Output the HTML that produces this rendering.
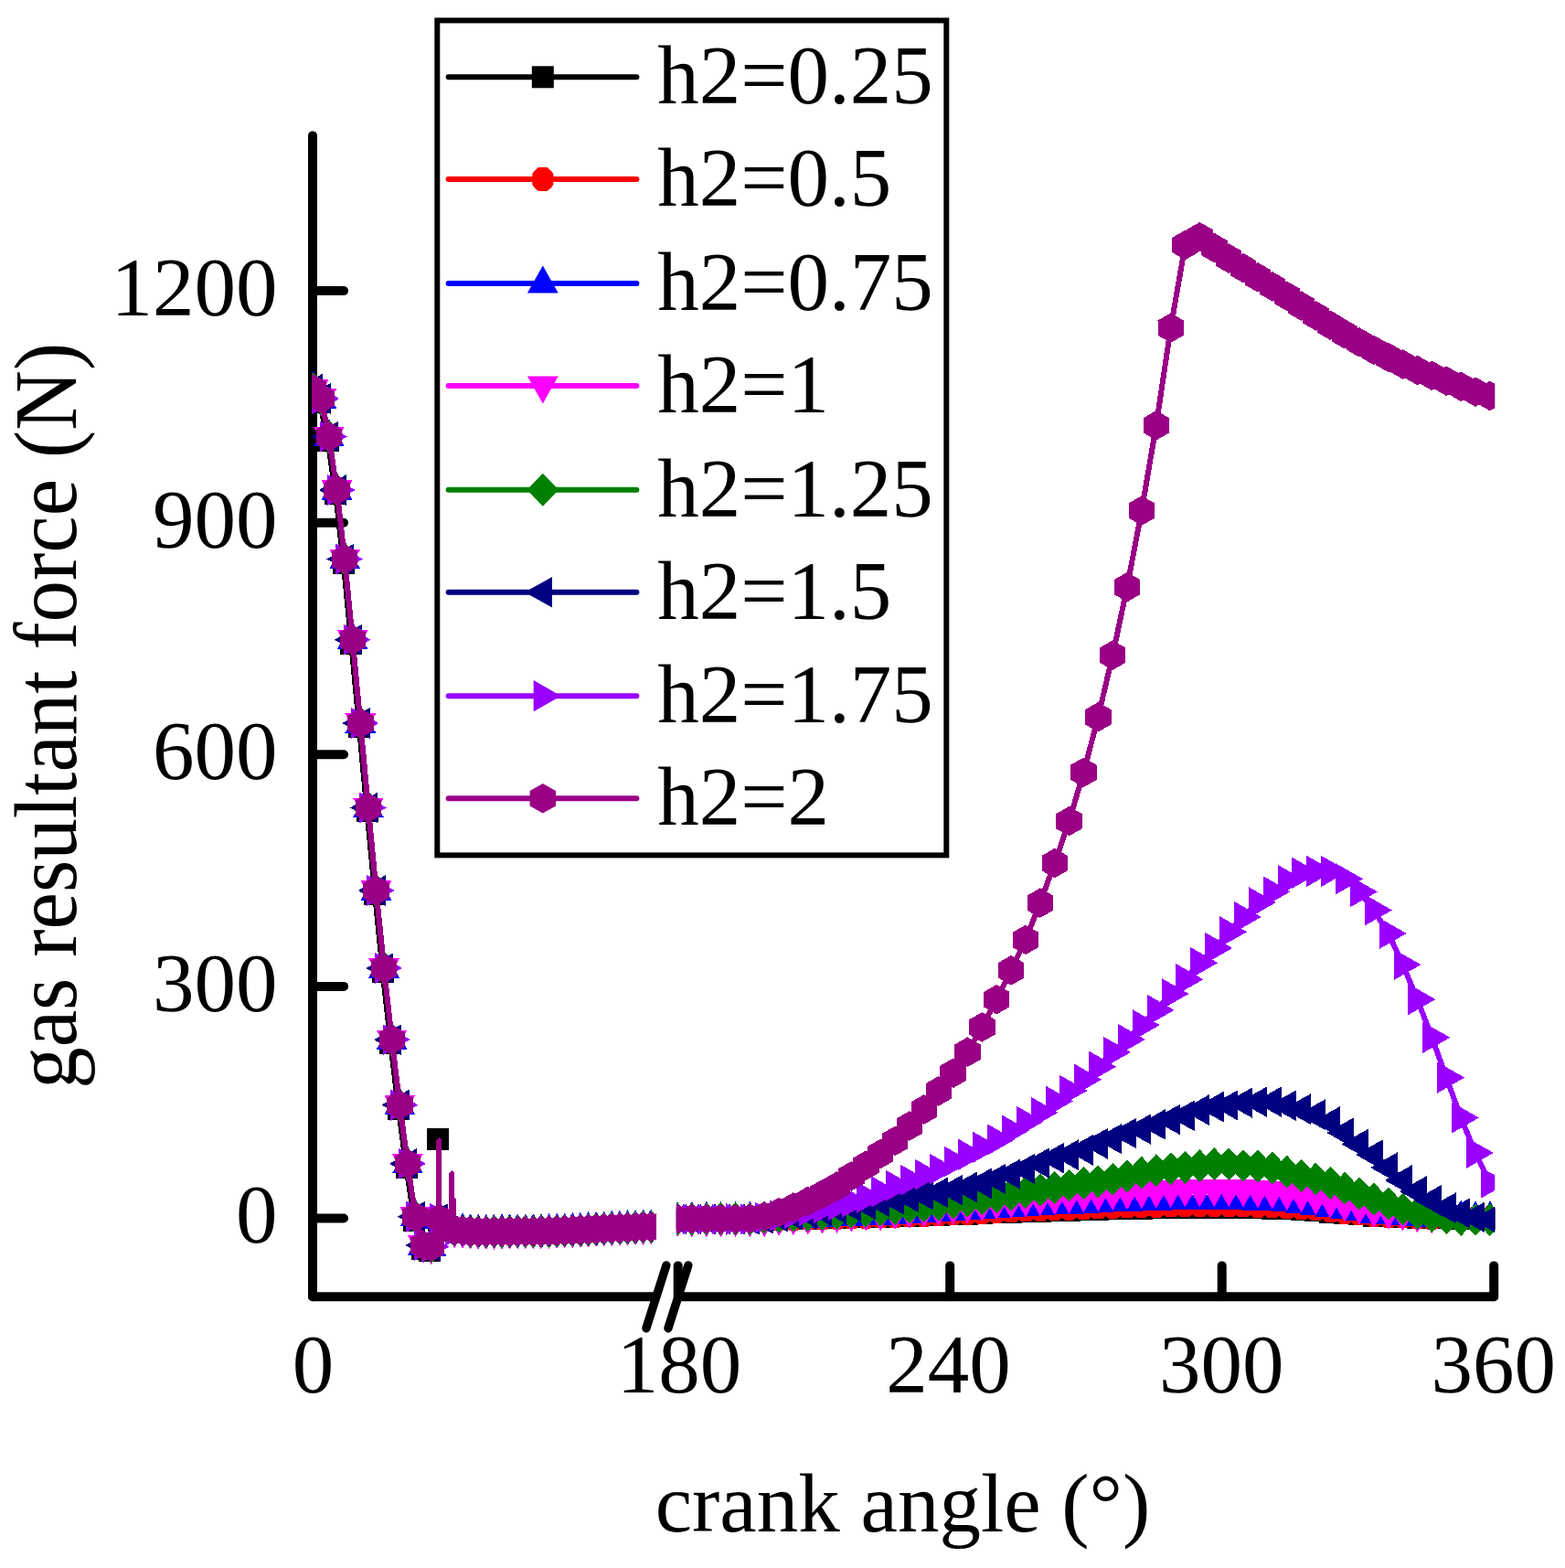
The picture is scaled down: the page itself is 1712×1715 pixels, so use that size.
<!DOCTYPE html>
<html lang="en">
<head>
<meta charset="utf-8">
<title>gas resultant force vs crank angle</title>
<style>html,body{margin:0;padding:0;background:#fff}body{width:1712px;height:1715px;overflow:hidden}svg{display:block}</style>
</head>
<body>
<svg width="1712" height="1715" viewBox="0 0 1712 1715" role="img" aria-label="gas resultant force versus crank angle">
<rect width="1712" height="1715" fill="#fff"/>
<defs><clipPath id="cl"><rect x="341" y="140" width="376.9" height="1275"/></clipPath><clipPath id="cr"><rect x="739.9" y="140" width="895.4" height="1275"/></clipPath></defs>
<g stroke="#000" stroke-width="10" stroke-linecap="round" fill="none">
<path d="M342 148.4V1418.3"/>
<path stroke-linecap="butt" d="M342 1418.3H718"/>
<path stroke-linecap="butt" d="M741.5 1418.3H1634.2"/>
<path d="M342 1418.3h0.01M1634.2 1418.3h0.01"/>
<path d="M342 1332.5H376"/>
<path d="M342 1078.9H376"/>
<path d="M342 825.3H376"/>
<path d="M342 571.7H376"/>
<path d="M342 318.1H376"/>
<path d="M741.7 1418.3V1384.4"/>
<path d="M1039.2 1418.3V1384.4"/>
<path d="M1336.7 1418.3V1384.4"/>
<path d="M1634.2 1418.3V1384.4"/>
</g>
<g stroke="#000" stroke-width="9.4" stroke-linecap="round"><path d="M706.9 1452.7L728.9 1383.9"/><path d="M730.9 1452.7L752.9 1383.9"/></g>
<g font-family='"Liberation Serif", "DejaVu Serif", serif' font-size="91" fill="#000">
<text x="303.5" y="1359.3" text-anchor="end">0</text>
<text x="303.5" y="1105.7" text-anchor="end">300</text>
<text x="303.5" y="852.1" text-anchor="end">600</text>
<text x="303.5" y="598.5" text-anchor="end">900</text>
<text x="303.5" y="344.9" text-anchor="end">1200</text>
<text x="342.4" y="1523" text-anchor="middle">0</text>
<text x="742.9" y="1523" text-anchor="middle">180</text>
<text x="1037.6" y="1523" text-anchor="middle">240</text>
<text x="1336.2" y="1523" text-anchor="middle">300</text>
<text x="1633.8" y="1523" text-anchor="middle">360</text>
<text x="987.5" y="1675" text-anchor="middle">crank angle (°)</text>
<text transform="translate(83 782.8) rotate(-90) scale(1 1.07)" text-anchor="middle">gas resultant force (N)</text>
</g>
<g clip-path="url(#cl)" shape-rendering="crispEdges">
<polyline fill="none" stroke="#000000" stroke-width="6" stroke-linejoin="round" points="341.4,429.5 349.9,440 358.5,481.5 367.1,540 375.7,615.5 384.3,703.7 392.9,795 401.5,887.4 410.1,978 418.7,1062.9 427.3,1141.1 435.9,1212.6 444.5,1276.8 453.1,1334.7 461.6,1366 470.2,1367.6 479.5,1335 488.8,1342 497.4,1345.5 506,1346 514.6,1347 523.2,1347.2 531.8,1347.3 540.4,1347.2 549,1347.1 557.6,1347 566.2,1346.9 574.8,1346.9 583.3,1346.8 591.9,1346.7 600.5,1346.6 609.1,1346.3 617.7,1346 626.3,1345.7 634.9,1345.3 643.5,1344.9 652.1,1344.4 660.7,1344 669.3,1343.6 677.9,1343.3 686.5,1342.9 695,1342.6 703.6,1342.2 712.2,1341.9 720.8,1341.8"/>
<path fill="#000000" d="M329.4 417.5L353.4 417.5L353.4 441.5L329.4 441.5ZM337.9 428L361.9 428L361.9 452L337.9 452ZM346.5 469.5L370.5 469.5L370.5 493.5L346.5 493.5ZM355.1 528L379.1 528L379.1 552L355.1 552ZM363.7 603.5L387.7 603.5L387.7 627.5L363.7 627.5ZM372.3 691.7L396.3 691.7L396.3 715.7L372.3 715.7ZM380.9 783L404.9 783L404.9 807L380.9 807ZM389.5 875.4L413.5 875.4L413.5 899.4L389.5 899.4ZM398.1 966L422.1 966L422.1 990L398.1 990ZM406.7 1050.9L430.7 1050.9L430.7 1074.9L406.7 1074.9ZM415.3 1129.1L439.3 1129.1L439.3 1153.1L415.3 1153.1ZM423.9 1200.6L447.9 1200.6L447.9 1224.6L423.9 1224.6ZM432.5 1264.8L456.5 1264.8L456.5 1288.8L432.5 1288.8ZM441.1 1322.7L465.1 1322.7L465.1 1346.7L441.1 1346.7ZM449.6 1354L473.6 1354L473.6 1378L449.6 1378ZM458.2 1355.6L482.2 1355.6L482.2 1379.6L458.2 1379.6ZM467.5 1323L491.5 1323L491.5 1347L467.5 1347ZM476.8 1330L500.8 1330L500.8 1354L476.8 1354ZM485.4 1333.5L509.4 1333.5L509.4 1357.5L485.4 1357.5ZM494 1334L518 1334L518 1358L494 1358ZM502.6 1335L526.6 1335L526.6 1359L502.6 1359ZM511.2 1335.2L535.2 1335.2L535.2 1359.2L511.2 1359.2ZM519.8 1335.3L543.8 1335.3L543.8 1359.3L519.8 1359.3ZM528.4 1335.2L552.4 1335.2L552.4 1359.2L528.4 1359.2ZM537 1335.1L561 1335.1L561 1359.1L537 1359.1ZM545.6 1335L569.6 1335L569.6 1359L545.6 1359ZM554.2 1334.9L578.2 1334.9L578.2 1358.9L554.2 1358.9ZM562.8 1334.9L586.8 1334.9L586.8 1358.9L562.8 1358.9ZM571.3 1334.8L595.3 1334.8L595.3 1358.8L571.3 1358.8ZM579.9 1334.7L603.9 1334.7L603.9 1358.7L579.9 1358.7ZM588.5 1334.6L612.5 1334.6L612.5 1358.6L588.5 1358.6ZM597.1 1334.3L621.1 1334.3L621.1 1358.3L597.1 1358.3ZM605.7 1334L629.7 1334L629.7 1358L605.7 1358ZM614.3 1333.7L638.3 1333.7L638.3 1357.7L614.3 1357.7ZM622.9 1333.3L646.9 1333.3L646.9 1357.3L622.9 1357.3ZM631.5 1332.9L655.5 1332.9L655.5 1356.9L631.5 1356.9ZM640.1 1332.4L664.1 1332.4L664.1 1356.4L640.1 1356.4ZM648.7 1332L672.7 1332L672.7 1356L648.7 1356ZM657.3 1331.6L681.3 1331.6L681.3 1355.6L657.3 1355.6ZM665.9 1331.3L689.9 1331.3L689.9 1355.3L665.9 1355.3ZM674.5 1330.9L698.5 1330.9L698.5 1354.9L674.5 1354.9ZM683 1330.6L707 1330.6L707 1354.6L683 1354.6ZM691.6 1330.2L715.6 1330.2L715.6 1354.2L691.6 1354.2ZM700.2 1329.9L724.2 1329.9L724.2 1353.9L700.2 1353.9ZM708.8 1329.8L732.8 1329.8L732.8 1353.8L708.8 1353.8Z"/>
<path fill="#000000" d="M477.3 1335V1247h6V1335Z"/>
<path fill="#000000" d="M467.1 1233.9L491.1 1233.9L491.1 1257.9L467.1 1257.9Z"/>
<polyline fill="none" stroke="#ff0000" stroke-width="6" stroke-linejoin="round" points="342.8,425.5 351.3,436 359.9,477.5 368.5,536 377.1,611.5 385.7,699.7 394.3,791 402.9,883.4 411.5,974 420.1,1058.9 428.7,1137.1 437.3,1208.6 445.9,1272.8 454.5,1330.7 463,1362 471.6,1363.6 480.2,1333 488.8,1342 497.4,1345.5 506,1346 514.6,1347 523.2,1347.2 531.8,1347.3 540.4,1347.2 549,1347.1 557.6,1347 566.2,1346.9 574.8,1346.9 583.3,1346.8 591.9,1346.7 600.5,1346.6 609.1,1346.3 617.7,1346 626.3,1345.7 634.9,1345.3 643.5,1344.9 652.1,1344.4 660.7,1344 669.3,1343.6 677.9,1343.3 686.5,1342.9 695,1342.6 703.6,1342.2 712.2,1341.9 720.8,1341.8"/>
<path fill="#ff0000" d="M337.9 412.5L347.6 412.5L351.9 416.3L354.2 419.5L354.2 431.5L351.9 434.7L347.6 438.5L337.9 438.5L333.6 434.7L331.2 431.5L331.2 419.5L333.6 416.3ZM346.5 423L356.1 423L360.5 426.8L362.8 430L362.8 442L360.5 445.2L356.1 449L346.5 449L342.1 445.2L339.8 442L339.8 430L342.1 426.8ZM355.1 464.5L364.7 464.5L369.1 468.3L371.4 471.5L371.4 483.5L369.1 486.7L364.7 490.5L355.1 490.5L350.7 486.7L348.4 483.5L348.4 471.5L350.7 468.3ZM363.7 523L373.3 523L377.7 526.8L380 530L380 542L377.7 545.2L373.3 549L363.7 549L359.3 545.2L357 542L357 530L359.3 526.8ZM372.3 598.5L381.9 598.5L386.3 602.3L388.6 605.5L388.6 617.5L386.3 620.7L381.9 624.5L372.3 624.5L367.9 620.7L365.6 617.5L365.6 605.5L367.9 602.3ZM380.9 686.7L390.5 686.7L394.9 690.5L397.2 693.7L397.2 705.7L394.9 708.9L390.5 712.7L380.9 712.7L376.5 708.9L374.2 705.7L374.2 693.7L376.5 690.5ZM389.5 778L399.1 778L403.5 781.8L405.8 785L405.8 797L403.5 800.2L399.1 804L389.5 804L385.1 800.2L382.8 797L382.8 785L385.1 781.8ZM398.1 870.4L407.7 870.4L412.1 874.2L414.4 877.4L414.4 889.4L412.1 892.6L407.7 896.4L398.1 896.4L393.7 892.6L391.4 889.4L391.4 877.4L393.7 874.2ZM406.7 961L416.3 961L420.7 964.8L423 968L423 980L420.7 983.2L416.3 987L406.7 987L402.3 983.2L400 980L400 968L402.3 964.8ZM415.3 1045.9L424.9 1045.9L429.3 1049.7L431.6 1052.9L431.6 1064.9L429.3 1068.1L424.9 1071.9L415.3 1071.9L410.9 1068.1L408.6 1064.9L408.6 1052.9L410.9 1049.7ZM423.9 1124.1L433.5 1124.1L437.9 1127.9L440.2 1131.1L440.2 1143.1L437.9 1146.3L433.5 1150.1L423.9 1150.1L419.5 1146.3L417.2 1143.1L417.2 1131.1L419.5 1127.9ZM432.5 1195.6L442.1 1195.6L446.5 1199.4L448.8 1202.6L448.8 1214.6L446.5 1217.8L442.1 1221.6L432.5 1221.6L428.1 1217.8L425.8 1214.6L425.8 1202.6L428.1 1199.4ZM441.1 1259.8L450.7 1259.8L455.1 1263.6L457.4 1266.8L457.4 1278.8L455.1 1282L450.7 1285.8L441.1 1285.8L436.7 1282L434.4 1278.8L434.4 1266.8L436.7 1263.6ZM449.7 1317.7L459.3 1317.7L463.7 1321.5L466 1324.7L466 1336.7L463.7 1339.9L459.3 1343.7L449.7 1343.7L445.3 1339.9L443 1336.7L443 1324.7L445.3 1321.5ZM458.2 1349L467.8 1349L472.2 1352.8L474.5 1356L474.5 1368L472.2 1371.2L467.8 1375L458.2 1375L453.8 1371.2L451.5 1368L451.5 1356L453.8 1352.8ZM466.8 1350.6L476.4 1350.6L480.8 1354.4L483.1 1357.6L483.1 1369.6L480.8 1372.8L476.4 1376.6L466.8 1376.6L462.4 1372.8L460.1 1369.6L460.1 1357.6L462.4 1354.4ZM475.4 1320L485 1320L489.4 1323.8L491.7 1327L491.7 1339L489.4 1342.2L485 1346L475.4 1346L471 1342.2L468.7 1339L468.7 1327L471 1323.8ZM484 1329L493.6 1329L498 1332.8L500.3 1336L500.3 1348L498 1351.2L493.6 1355L484 1355L479.6 1351.2L477.3 1348L477.3 1336L479.6 1332.8ZM492.6 1332.5L502.2 1332.5L506.6 1336.3L508.9 1339.5L508.9 1351.5L506.6 1354.7L502.2 1358.5L492.6 1358.5L488.2 1354.7L485.9 1351.5L485.9 1339.5L488.2 1336.3ZM501.2 1333L510.8 1333L515.2 1336.8L517.5 1340L517.5 1352L515.2 1355.2L510.8 1359L501.2 1359L496.8 1355.2L494.5 1352L494.5 1340L496.8 1336.8ZM509.8 1334L519.4 1334L523.8 1337.8L526.1 1341L526.1 1353L523.8 1356.2L519.4 1360L509.8 1360L505.4 1356.2L503.1 1353L503.1 1341L505.4 1337.8ZM518.4 1334.2L528 1334.2L532.4 1338L534.7 1341.2L534.7 1353.2L532.4 1356.4L528 1360.2L518.4 1360.2L514 1356.4L511.7 1353.2L511.7 1341.2L514 1338ZM527 1334.3L536.6 1334.3L541 1338.1L543.3 1341.3L543.3 1353.3L541 1356.5L536.6 1360.3L527 1360.3L522.6 1356.5L520.3 1353.3L520.3 1341.3L522.6 1338.1ZM535.6 1334.2L545.2 1334.2L549.6 1338L551.9 1341.2L551.9 1353.2L549.6 1356.4L545.2 1360.2L535.6 1360.2L531.2 1356.4L528.9 1353.2L528.9 1341.2L531.2 1338ZM544.2 1334.1L553.8 1334.1L558.2 1337.9L560.5 1341.1L560.5 1353.1L558.2 1356.3L553.8 1360.1L544.2 1360.1L539.8 1356.3L537.5 1353.1L537.5 1341.1L539.8 1337.9ZM552.8 1334L562.4 1334L566.8 1337.8L569.1 1341L569.1 1353L566.8 1356.2L562.4 1360L552.8 1360L548.4 1356.2L546.1 1353L546.1 1341L548.4 1337.8ZM561.4 1333.9L571 1333.9L575.4 1337.7L577.7 1340.9L577.7 1352.9L575.4 1356.1L571 1359.9L561.4 1359.9L557 1356.1L554.7 1352.9L554.7 1340.9L557 1337.7ZM570 1333.9L579.6 1333.9L584 1337.7L586.3 1340.9L586.3 1352.9L584 1356.1L579.6 1359.9L570 1359.9L565.6 1356.1L563.3 1352.9L563.3 1340.9L565.6 1337.7ZM578.5 1333.8L588.1 1333.8L592.5 1337.6L594.8 1340.8L594.8 1352.8L592.5 1356L588.1 1359.8L578.5 1359.8L574.1 1356L571.8 1352.8L571.8 1340.8L574.1 1337.6ZM587.1 1333.7L596.7 1333.7L601.1 1337.5L603.4 1340.7L603.4 1352.7L601.1 1355.9L596.7 1359.7L587.1 1359.7L582.7 1355.9L580.4 1352.7L580.4 1340.7L582.7 1337.5ZM595.7 1333.6L605.3 1333.6L609.7 1337.4L612 1340.6L612 1352.6L609.7 1355.8L605.3 1359.6L595.7 1359.6L591.3 1355.8L589 1352.6L589 1340.6L591.3 1337.4ZM604.3 1333.3L613.9 1333.3L618.3 1337.1L620.6 1340.3L620.6 1352.3L618.3 1355.5L613.9 1359.3L604.3 1359.3L599.9 1355.5L597.6 1352.3L597.6 1340.3L599.9 1337.1ZM612.9 1333L622.5 1333L626.9 1336.8L629.2 1340L629.2 1352L626.9 1355.2L622.5 1359L612.9 1359L608.5 1355.2L606.2 1352L606.2 1340L608.5 1336.8ZM621.5 1332.7L631.1 1332.7L635.5 1336.5L637.8 1339.7L637.8 1351.7L635.5 1354.9L631.1 1358.7L621.5 1358.7L617.1 1354.9L614.8 1351.7L614.8 1339.7L617.1 1336.5ZM630.1 1332.3L639.7 1332.3L644.1 1336.1L646.4 1339.3L646.4 1351.3L644.1 1354.5L639.7 1358.3L630.1 1358.3L625.7 1354.5L623.4 1351.3L623.4 1339.3L625.7 1336.1ZM638.7 1331.9L648.3 1331.9L652.7 1335.7L655 1338.9L655 1350.9L652.7 1354.1L648.3 1357.9L638.7 1357.9L634.3 1354.1L632 1350.9L632 1338.9L634.3 1335.7ZM647.3 1331.4L656.9 1331.4L661.3 1335.2L663.6 1338.4L663.6 1350.4L661.3 1353.6L656.9 1357.4L647.3 1357.4L642.9 1353.6L640.6 1350.4L640.6 1338.4L642.9 1335.2ZM655.9 1331L665.5 1331L669.9 1334.8L672.2 1338L672.2 1350L669.9 1353.2L665.5 1357L655.9 1357L651.5 1353.2L649.2 1350L649.2 1338L651.5 1334.8ZM664.5 1330.6L674.1 1330.6L678.5 1334.4L680.8 1337.6L680.8 1349.6L678.5 1352.8L674.1 1356.6L664.5 1356.6L660.1 1352.8L657.8 1349.6L657.8 1337.6L660.1 1334.4ZM673.1 1330.3L682.7 1330.3L687.1 1334.1L689.4 1337.3L689.4 1349.3L687.1 1352.5L682.7 1356.3L673.1 1356.3L668.7 1352.5L666.4 1349.3L666.4 1337.3L668.7 1334.1ZM681.7 1329.9L691.3 1329.9L695.7 1333.7L698 1336.9L698 1348.9L695.7 1352.1L691.3 1355.9L681.7 1355.9L677.3 1352.1L675 1348.9L675 1336.9L677.3 1333.7ZM690.2 1329.6L699.8 1329.6L704.2 1333.4L706.5 1336.6L706.5 1348.6L704.2 1351.8L699.8 1355.6L690.2 1355.6L685.8 1351.8L683.5 1348.6L683.5 1336.6L685.8 1333.4ZM698.8 1329.2L708.4 1329.2L712.8 1333L715.1 1336.2L715.1 1348.2L712.8 1351.4L708.4 1355.2L698.8 1355.2L694.4 1351.4L692.1 1348.2L692.1 1336.2L694.4 1333ZM707.4 1328.9L717 1328.9L721.4 1332.7L723.7 1335.9L723.7 1347.9L721.4 1351.1L717 1354.9L707.4 1354.9L703 1351.1L700.7 1347.9L700.7 1335.9L703 1332.7ZM716 1328.8L725.6 1328.8L730 1332.6L732.3 1335.8L732.3 1347.8L730 1351L725.6 1354.8L716 1354.8L711.6 1351L709.3 1347.8L709.3 1335.8L711.6 1332.6Z"/>
<polyline fill="none" stroke="#0000ff" stroke-width="6" stroke-linejoin="round" points="342.8,425.5 351.3,436 359.9,477.5 368.5,536 377.1,611.5 385.7,699.7 394.3,791 402.9,883.4 411.5,974 420.1,1058.9 428.7,1137.1 437.3,1208.6 445.9,1272.8 454.5,1330.7 463,1362 471.6,1363.6 480.2,1333 488.8,1342 497.4,1345.5 506,1346 514.6,1347 523.2,1347.2 531.8,1347.3 540.4,1347.2 549,1347.1 557.6,1347 566.2,1346.9 574.8,1346.9 583.3,1346.8 591.9,1346.7 600.5,1346.6 609.1,1346.3 617.7,1346 626.3,1345.7 634.9,1345.3 643.5,1344.9 652.1,1344.4 660.7,1344 669.3,1343.6 677.9,1343.3 686.5,1342.9 695,1342.6 703.6,1342.2 712.2,1341.9 720.8,1341.8"/>
<path fill="#0000ff" d="M342.8 405.9L359.6 436.1L325.9 436.1ZM351.3 416.4L368.2 446.6L334.4 446.6ZM359.9 457.9L376.8 488.1L343 488.1ZM368.5 516.4L385.4 546.6L351.6 546.6ZM377.1 591.9L394 622.1L360.2 622.1ZM385.7 680.1L402.6 710.3L368.8 710.3ZM394.3 771.4L411.2 801.6L377.4 801.6ZM402.9 863.8L419.8 894L386 894ZM411.5 954.4L428.4 984.6L394.6 984.6ZM420.1 1039.3L437 1069.5L403.2 1069.5ZM428.7 1117.5L445.6 1147.7L411.8 1147.7ZM437.3 1189L454.2 1219.2L420.4 1219.2ZM445.9 1253.2L462.8 1283.4L429 1283.4ZM454.5 1311.1L471.4 1341.3L437.6 1341.3ZM463 1342.4L479.9 1372.6L446.1 1372.6ZM471.6 1344L488.5 1374.2L454.7 1374.2ZM480.2 1313.4L497.1 1343.6L463.3 1343.6ZM488.8 1322.4L505.7 1352.6L471.9 1352.6ZM497.4 1325.9L514.3 1356.1L480.5 1356.1ZM506 1326.4L522.9 1356.6L489.1 1356.6ZM514.6 1327.4L531.5 1357.6L497.7 1357.6ZM523.2 1327.6L540.1 1357.8L506.3 1357.8ZM531.8 1327.7L548.7 1357.9L514.9 1357.9ZM540.4 1327.6L557.3 1357.8L523.5 1357.8ZM549 1327.5L565.9 1357.7L532.1 1357.7ZM557.6 1327.4L574.5 1357.6L540.7 1357.6ZM566.2 1327.3L583.1 1357.5L549.3 1357.5ZM574.8 1327.3L591.7 1357.5L557.9 1357.5ZM583.3 1327.2L600.2 1357.4L566.4 1357.4ZM591.9 1327.1L608.8 1357.3L575 1357.3ZM600.5 1327L617.4 1357.2L583.6 1357.2ZM609.1 1326.7L626 1356.9L592.2 1356.9ZM617.7 1326.4L634.6 1356.6L600.8 1356.6ZM626.3 1326.1L643.2 1356.3L609.4 1356.3ZM634.9 1325.7L651.8 1355.9L618 1355.9ZM643.5 1325.3L660.4 1355.5L626.6 1355.5ZM652.1 1324.8L669 1355L635.2 1355ZM660.7 1324.4L677.6 1354.6L643.8 1354.6ZM669.3 1324L686.2 1354.2L652.4 1354.2ZM677.9 1323.7L694.8 1353.9L661 1353.9ZM686.5 1323.3L703.4 1353.5L669.6 1353.5ZM695 1323L711.9 1353.2L678.1 1353.2ZM703.6 1322.6L720.5 1352.8L686.7 1352.8ZM712.2 1322.3L729.1 1352.5L695.3 1352.5ZM720.8 1322.2L737.7 1352.4L703.9 1352.4Z"/>
<polyline fill="none" stroke="#ff00ff" stroke-width="6" stroke-linejoin="round" points="342.8,425.5 351.3,436 359.9,477.5 368.5,536 377.1,611.5 385.7,699.7 394.3,791 402.9,883.4 411.5,974 420.1,1058.9 428.7,1137.1 437.3,1208.6 445.9,1272.8 454.5,1330.7 463,1362 471.6,1363.6 480.2,1333 488.8,1342 497.4,1345.5 506,1346 514.6,1347 523.2,1347.2 531.8,1347.3 540.4,1347.2 549,1347.1 557.6,1347 566.2,1346.9 574.8,1346.9 583.3,1346.8 591.9,1346.7 600.5,1346.6 609.1,1346.3 617.7,1346 626.3,1345.7 634.9,1345.3 643.5,1344.9 652.1,1344.4 660.7,1344 669.3,1343.6 677.9,1343.3 686.5,1342.9 695,1342.6 703.6,1342.2 712.2,1341.9 720.8,1341.8"/>
<path fill="#ff00ff" d="M342.8 445.1L359.6 414.9L325.9 414.9ZM351.3 455.6L368.2 425.4L334.4 425.4ZM359.9 497.1L376.8 466.9L343 466.9ZM368.5 555.6L385.4 525.4L351.6 525.4ZM377.1 631.1L394 600.9L360.2 600.9ZM385.7 719.3L402.6 689.1L368.8 689.1ZM394.3 810.6L411.2 780.4L377.4 780.4ZM402.9 903L419.8 872.8L386 872.8ZM411.5 993.6L428.4 963.4L394.6 963.4ZM420.1 1078.5L437 1048.3L403.2 1048.3ZM428.7 1156.7L445.6 1126.5L411.8 1126.5ZM437.3 1228.2L454.2 1198L420.4 1198ZM445.9 1292.4L462.8 1262.2L429 1262.2ZM454.5 1350.3L471.4 1320.1L437.6 1320.1ZM463 1381.6L479.9 1351.4L446.1 1351.4ZM471.6 1383.2L488.5 1353L454.7 1353ZM480.2 1352.6L497.1 1322.4L463.3 1322.4ZM488.8 1361.6L505.7 1331.4L471.9 1331.4ZM497.4 1365.1L514.3 1334.9L480.5 1334.9ZM506 1365.6L522.9 1335.4L489.1 1335.4ZM514.6 1366.6L531.5 1336.4L497.7 1336.4ZM523.2 1366.8L540.1 1336.6L506.3 1336.6ZM531.8 1366.9L548.7 1336.7L514.9 1336.7ZM540.4 1366.8L557.3 1336.6L523.5 1336.6ZM549 1366.7L565.9 1336.5L532.1 1336.5ZM557.6 1366.6L574.5 1336.4L540.7 1336.4ZM566.2 1366.5L583.1 1336.3L549.3 1336.3ZM574.8 1366.5L591.7 1336.3L557.9 1336.3ZM583.3 1366.4L600.2 1336.2L566.4 1336.2ZM591.9 1366.3L608.8 1336.1L575 1336.1ZM600.5 1366.2L617.4 1336L583.6 1336ZM609.1 1365.9L626 1335.7L592.2 1335.7ZM617.7 1365.6L634.6 1335.4L600.8 1335.4ZM626.3 1365.3L643.2 1335.1L609.4 1335.1ZM634.9 1364.9L651.8 1334.7L618 1334.7ZM643.5 1364.5L660.4 1334.3L626.6 1334.3ZM652.1 1364L669 1333.8L635.2 1333.8ZM660.7 1363.6L677.6 1333.4L643.8 1333.4ZM669.3 1363.2L686.2 1333L652.4 1333ZM677.9 1362.9L694.8 1332.7L661 1332.7ZM686.5 1362.5L703.4 1332.3L669.6 1332.3ZM695 1362.2L711.9 1332L678.1 1332ZM703.6 1361.8L720.5 1331.6L686.7 1331.6ZM712.2 1361.5L729.1 1331.3L695.3 1331.3ZM720.8 1361.4L737.7 1331.2L703.9 1331.2Z"/>
<polyline fill="none" stroke="#008000" stroke-width="6" stroke-linejoin="round" points="342.8,425.5 351.3,436 359.9,477.5 368.5,536 377.1,611.5 385.7,699.7 394.3,791 402.9,883.4 411.5,974 420.1,1058.9 428.7,1137.1 437.3,1208.6 445.9,1272.8 454.5,1330.7 463,1362 471.6,1363.6 480.2,1333 488.8,1342 497.4,1345.5 506,1346 514.6,1347 523.2,1347.2 531.8,1347.3 540.4,1347.2 549,1347.1 557.6,1347 566.2,1346.9 574.8,1346.9 583.3,1346.8 591.9,1346.7 600.5,1346.6 609.1,1346.3 617.7,1346 626.3,1345.7 634.9,1345.3 643.5,1344.9 652.1,1344.4 660.7,1344 669.3,1343.6 677.9,1343.3 686.5,1342.9 695,1342.6 703.6,1342.2 712.2,1341.9 720.8,1341.8"/>
<path fill="#008000" d="M342.8 407.5L360.1 425.5L342.8 443.5L325.4 425.5ZM351.3 418L368.7 436L351.3 454L333.9 436ZM359.9 459.5L377.3 477.5L359.9 495.5L342.5 477.5ZM368.5 518L385.9 536L368.5 554L351.1 536ZM377.1 593.5L394.5 611.5L377.1 629.5L359.7 611.5ZM385.7 681.7L403.1 699.7L385.7 717.7L368.3 699.7ZM394.3 773L411.7 791L394.3 809L376.9 791ZM402.9 865.4L420.3 883.4L402.9 901.4L385.5 883.4ZM411.5 956L428.9 974L411.5 992L394.1 974ZM420.1 1040.9L437.5 1058.9L420.1 1076.9L402.7 1058.9ZM428.7 1119.1L446.1 1137.1L428.7 1155.1L411.3 1137.1ZM437.3 1190.6L454.7 1208.6L437.3 1226.6L419.9 1208.6ZM445.9 1254.8L463.3 1272.8L445.9 1290.8L428.5 1272.8ZM454.5 1312.7L471.9 1330.7L454.5 1348.7L437.1 1330.7ZM463 1344L480.4 1362L463 1380L445.6 1362ZM471.6 1345.6L489 1363.6L471.6 1381.6L454.2 1363.6ZM480.2 1315L497.6 1333L480.2 1351L462.8 1333ZM488.8 1324L506.2 1342L488.8 1360L471.4 1342ZM497.4 1327.5L514.8 1345.5L497.4 1363.5L480 1345.5ZM506 1328L523.4 1346L506 1364L488.6 1346ZM514.6 1329L532 1347L514.6 1365L497.2 1347ZM523.2 1329.2L540.6 1347.2L523.2 1365.2L505.8 1347.2ZM531.8 1329.3L549.2 1347.3L531.8 1365.3L514.4 1347.3ZM540.4 1329.2L557.8 1347.2L540.4 1365.2L523 1347.2ZM549 1329.1L566.4 1347.1L549 1365.1L531.6 1347.1ZM557.6 1329L575 1347L557.6 1365L540.2 1347ZM566.2 1328.9L583.6 1346.9L566.2 1364.9L548.8 1346.9ZM574.8 1328.9L592.2 1346.9L574.8 1364.9L557.4 1346.9ZM583.3 1328.8L600.7 1346.8L583.3 1364.8L565.9 1346.8ZM591.9 1328.7L609.3 1346.7L591.9 1364.7L574.5 1346.7ZM600.5 1328.6L617.9 1346.6L600.5 1364.6L583.1 1346.6ZM609.1 1328.3L626.5 1346.3L609.1 1364.3L591.7 1346.3ZM617.7 1328L635.1 1346L617.7 1364L600.3 1346ZM626.3 1327.7L643.7 1345.7L626.3 1363.7L608.9 1345.7ZM634.9 1327.3L652.3 1345.3L634.9 1363.3L617.5 1345.3ZM643.5 1326.9L660.9 1344.9L643.5 1362.9L626.1 1344.9ZM652.1 1326.4L669.5 1344.4L652.1 1362.4L634.7 1344.4ZM660.7 1326L678.1 1344L660.7 1362L643.3 1344ZM669.3 1325.6L686.7 1343.6L669.3 1361.6L651.9 1343.6ZM677.9 1325.3L695.3 1343.3L677.9 1361.3L660.5 1343.3ZM686.5 1324.9L703.9 1342.9L686.5 1360.9L669.1 1342.9ZM695 1324.6L712.4 1342.6L695 1360.6L677.6 1342.6ZM703.6 1324.2L721 1342.2L703.6 1360.2L686.2 1342.2ZM712.2 1323.9L729.6 1341.9L712.2 1359.9L694.8 1341.9ZM720.8 1323.8L738.2 1341.8L720.8 1359.8L703.4 1341.8Z"/>
<polyline fill="none" stroke="#000080" stroke-width="6" stroke-linejoin="round" points="342.8,425.5 351.3,436 359.9,477.5 368.5,536 377.1,611.5 385.7,699.7 394.3,791 402.9,883.4 411.5,974 420.1,1058.9 428.7,1137.1 437.3,1208.6 445.9,1272.8 454.5,1330.7 463,1362 471.6,1363.6 480.2,1333 488.8,1342 497.4,1345.5 506,1346 514.6,1347 523.2,1347.2 531.8,1347.3 540.4,1347.2 549,1347.1 557.6,1347 566.2,1346.9 574.8,1346.9 583.3,1346.8 591.9,1346.7 600.5,1346.6 609.1,1346.3 617.7,1346 626.3,1345.7 634.9,1345.3 643.5,1344.9 652.1,1344.4 660.7,1344 669.3,1343.6 677.9,1343.3 686.5,1342.9 695,1342.6 703.6,1342.2 712.2,1341.9 720.8,1341.8"/>
<path fill="#000080" d="M322.9 425.5L352.9 408.7L352.9 442.3ZM331.5 436L361.5 419.2L361.5 452.8ZM340.1 477.5L370.1 460.7L370.1 494.3ZM348.7 536L378.7 519.2L378.7 552.8ZM357.3 611.5L387.3 594.7L387.3 628.3ZM365.9 699.7L395.9 682.9L395.9 716.5ZM374.5 791L404.5 774.2L404.5 807.8ZM383.1 883.4L413.1 866.6L413.1 900.2ZM391.7 974L421.7 957.2L421.7 990.8ZM400.3 1058.9L430.3 1042.1L430.3 1075.7ZM408.9 1137.1L438.9 1120.3L438.9 1153.9ZM417.5 1208.6L447.5 1191.8L447.5 1225.4ZM426.1 1272.8L456.1 1256L456.1 1289.6ZM434.7 1330.7L464.7 1313.9L464.7 1347.5ZM443.2 1362L473.2 1345.2L473.2 1378.8ZM451.8 1363.6L481.8 1346.8L481.8 1380.4ZM460.4 1333L490.4 1316.2L490.4 1349.8ZM469 1342L499 1325.2L499 1358.8ZM477.6 1345.5L507.6 1328.7L507.6 1362.3ZM486.2 1346L516.2 1329.2L516.2 1362.8ZM494.8 1347L524.8 1330.2L524.8 1363.8ZM503.4 1347.2L533.4 1330.4L533.4 1364ZM512 1347.3L542 1330.5L542 1364.1ZM520.6 1347.2L550.6 1330.4L550.6 1364ZM529.2 1347.1L559.2 1330.3L559.2 1363.9ZM537.8 1347L567.8 1330.2L567.8 1363.8ZM546.4 1346.9L576.4 1330.1L576.4 1363.7ZM555 1346.9L585 1330.1L585 1363.7ZM563.5 1346.8L593.5 1330L593.5 1363.6ZM572.1 1346.7L602.1 1329.9L602.1 1363.5ZM580.7 1346.6L610.7 1329.8L610.7 1363.4ZM589.3 1346.3L619.3 1329.5L619.3 1363.1ZM597.9 1346L627.9 1329.2L627.9 1362.8ZM606.5 1345.7L636.5 1328.9L636.5 1362.5ZM615.1 1345.3L645.1 1328.5L645.1 1362.1ZM623.7 1344.9L653.7 1328.1L653.7 1361.7ZM632.3 1344.4L662.3 1327.6L662.3 1361.2ZM640.9 1344L670.9 1327.2L670.9 1360.8ZM649.5 1343.6L679.5 1326.8L679.5 1360.4ZM658.1 1343.3L688.1 1326.5L688.1 1360.1ZM666.7 1342.9L696.7 1326.1L696.7 1359.7ZM675.2 1342.6L705.2 1325.8L705.2 1359.4ZM683.8 1342.2L713.8 1325.4L713.8 1359ZM692.4 1341.9L722.4 1325.1L722.4 1358.7ZM701 1341.8L731 1325L731 1358.6Z"/>
<polyline fill="none" stroke="#9900ff" stroke-width="6" stroke-linejoin="round" points="342.8,425.5 351.3,436 359.9,477.5 368.5,536 377.1,611.5 385.7,699.7 394.3,791 402.9,883.4 411.5,974 420.1,1058.9 428.7,1137.1 437.3,1208.6 445.9,1272.8 454.5,1330.7 463,1362 471.6,1363.6 480.2,1333 488.8,1342 497.4,1345.5 506,1346 514.6,1347 523.2,1347.2 531.8,1347.3 540.4,1347.2 549,1347.1 557.6,1347 566.2,1346.9 574.8,1346.9 583.3,1346.8 591.9,1346.7 600.5,1346.6 609.1,1346.3 617.7,1346 626.3,1345.7 634.9,1345.3 643.5,1344.9 652.1,1344.4 660.7,1344 669.3,1343.6 677.9,1343.3 686.5,1342.9 695,1342.6 703.6,1342.2 712.2,1341.9 720.8,1341.8"/>
<path fill="#9900ff" d="M362.6 425.5L332.6 408.4L332.6 442.6ZM371.2 436L341.2 418.9L341.2 453.1ZM379.8 477.5L349.8 460.4L349.8 494.6ZM388.4 536L358.4 518.9L358.4 553.1ZM397 611.5L367 594.4L367 628.6ZM405.6 699.7L375.6 682.6L375.6 716.8ZM414.2 791L384.2 773.9L384.2 808.1ZM422.8 883.4L392.8 866.3L392.8 900.5ZM431.4 974L401.4 956.9L401.4 991.1ZM440 1058.9L410 1041.8L410 1076ZM448.6 1137.1L418.6 1120L418.6 1154.2ZM457.2 1208.6L427.2 1191.5L427.2 1225.7ZM465.8 1272.8L435.8 1255.7L435.8 1289.9ZM474.4 1330.7L444.4 1313.6L444.4 1347.8ZM482.9 1362L452.9 1344.9L452.9 1379.1ZM491.5 1363.6L461.5 1346.5L461.5 1380.7ZM500.1 1333L470.1 1315.9L470.1 1350.1ZM508.7 1342L478.7 1324.9L478.7 1359.1ZM517.3 1345.5L487.3 1328.4L487.3 1362.6ZM525.9 1346L495.9 1328.9L495.9 1363.1ZM534.5 1347L504.5 1329.9L504.5 1364.1ZM543.1 1347.2L513.1 1330.1L513.1 1364.2ZM551.7 1347.3L521.7 1330.2L521.7 1364.4ZM560.3 1347.2L530.3 1330.1L530.3 1364.3ZM568.9 1347.1L538.9 1330L538.9 1364.2ZM577.5 1347L547.5 1329.9L547.5 1364.1ZM586.1 1346.9L556.1 1329.8L556.1 1364ZM594.7 1346.9L564.7 1329.8L564.7 1364ZM603.2 1346.8L573.2 1329.7L573.2 1363.9ZM611.8 1346.7L581.8 1329.6L581.8 1363.8ZM620.4 1346.6L590.4 1329.5L590.4 1363.7ZM629 1346.3L599 1329.2L599 1363.4ZM637.6 1346L607.6 1328.9L607.6 1363.1ZM646.2 1345.7L616.2 1328.6L616.2 1362.8ZM654.8 1345.3L624.8 1328.2L624.8 1362.4ZM663.4 1344.9L633.4 1327.8L633.4 1362ZM672 1344.4L642 1327.3L642 1361.5ZM680.6 1344L650.6 1326.9L650.6 1361.1ZM689.2 1343.6L659.2 1326.5L659.2 1360.7ZM697.8 1343.3L667.8 1326.2L667.8 1360.4ZM706.4 1342.9L676.4 1325.8L676.4 1360ZM714.9 1342.6L684.9 1325.5L684.9 1359.7ZM723.5 1342.2L693.5 1325.1L693.5 1359.3ZM732.1 1341.9L702.1 1324.8L702.1 1359ZM740.7 1341.8L710.7 1324.7L710.7 1358.9Z"/>
<polyline fill="none" stroke="#990085" stroke-width="6" stroke-linejoin="round" points="342.8,425.5 351.3,436 359.9,477.5 368.5,536 377.1,611.5 385.7,699.7 394.3,791 402.9,883.4 411.5,974 420.1,1058.9 428.7,1137.1 437.3,1208.6 445.9,1272.8 454.5,1330.7 463,1362 471.6,1363.6 480.2,1333 488.8,1342 497.4,1345.5 506,1346 514.6,1347 523.2,1347.2 531.8,1347.3 540.4,1347.2 549,1347.1 557.6,1347 566.2,1346.9 574.8,1346.9 583.3,1346.8 591.9,1346.7 600.5,1346.6 609.1,1346.3 617.7,1346 626.3,1345.7 634.9,1345.3 643.5,1344.9 652.1,1344.4 660.7,1344 669.3,1343.6 677.9,1343.3 686.5,1342.9 695,1342.6 703.6,1342.2 712.2,1341.9 720.8,1341.8"/>
<path fill="#990085" d="M342.8 409.2L356.9 417.4L356.9 433.6L342.8 441.8L328.6 433.6L328.6 417.4ZM351.3 419.7L365.5 427.9L365.5 444.1L351.3 452.3L337.1 444.1L337.1 427.9ZM359.9 461.2L374.1 469.4L374.1 485.6L359.9 493.8L345.7 485.6L345.7 469.4ZM368.5 519.7L382.7 527.9L382.7 544.1L368.5 552.3L354.3 544.1L354.3 527.9ZM377.1 595.2L391.3 603.4L391.3 619.6L377.1 627.8L362.9 619.6L362.9 603.4ZM385.7 683.4L399.9 691.6L399.9 707.9L385.7 716L371.5 707.9L371.5 691.6ZM394.3 774.7L408.5 782.9L408.5 799.1L394.3 807.3L380.1 799.1L380.1 782.9ZM402.9 867.1L417.1 875.2L417.1 891.5L402.9 899.7L388.7 891.5L388.7 875.2ZM411.5 957.7L425.7 965.9L425.7 982.1L411.5 990.3L397.3 982.1L397.3 965.9ZM420.1 1042.6L434.3 1050.8L434.3 1067.1L420.1 1075.2L405.9 1067.1L405.9 1050.8ZM428.7 1120.8L442.9 1128.9L442.9 1145.2L428.7 1153.4L414.5 1145.2L414.5 1128.9ZM437.3 1192.3L451.5 1200.4L451.5 1216.8L437.3 1224.9L423.1 1216.8L423.1 1200.4ZM445.9 1256.5L460.1 1264.6L460.1 1281L445.9 1289.1L431.7 1281L431.7 1264.6ZM454.5 1314.4L468.7 1322.5L468.7 1338.9L454.5 1347L440.3 1338.9L440.3 1322.5ZM463 1345.7L477.2 1353.8L477.2 1370.2L463 1378.3L448.8 1370.2L448.8 1353.8ZM471.6 1347.3L485.8 1355.4L485.8 1371.8L471.6 1379.9L457.4 1371.8L457.4 1355.4ZM480.2 1316.7L494.4 1324.8L494.4 1341.2L480.2 1349.3L466 1341.2L466 1324.8ZM488.8 1325.7L503 1333.8L503 1350.2L488.8 1358.3L474.6 1350.2L474.6 1333.8ZM497.4 1329.2L511.6 1337.3L511.6 1353.7L497.4 1361.8L483.2 1353.7L483.2 1337.3ZM506 1329.7L520.2 1337.8L520.2 1354.2L506 1362.3L491.8 1354.2L491.8 1337.8ZM514.6 1330.7L528.8 1338.8L528.8 1355.2L514.6 1363.3L500.4 1355.2L500.4 1338.8ZM523.2 1330.9L537.4 1339L537.4 1355.3L523.2 1363.5L509 1355.3L509 1339ZM531.8 1331L546 1339.1L546 1355.5L531.8 1363.6L517.6 1355.5L517.6 1339.1ZM540.4 1330.9L554.6 1339.1L554.6 1355.4L540.4 1363.5L526.2 1355.4L526.2 1339.1ZM549 1330.8L563.2 1339L563.2 1355.3L549 1363.4L534.8 1355.3L534.8 1339ZM557.6 1330.7L571.8 1338.9L571.8 1355.2L557.6 1363.3L543.4 1355.2L543.4 1338.9ZM566.2 1330.6L580.4 1338.8L580.4 1355.1L566.2 1363.2L552 1355.1L552 1338.8ZM574.8 1330.6L589 1338.7L589 1355L574.8 1363.2L560.6 1355L560.6 1338.7ZM583.3 1330.5L597.5 1338.6L597.5 1354.9L583.3 1363.1L569.1 1354.9L569.1 1338.6ZM591.9 1330.4L606.1 1338.5L606.1 1354.8L591.9 1363L577.7 1354.8L577.7 1338.5ZM600.5 1330.3L614.7 1338.4L614.7 1354.8L600.5 1362.9L586.3 1354.8L586.3 1338.4ZM609.1 1330L623.3 1338.1L623.3 1354.5L609.1 1362.6L594.9 1354.5L594.9 1338.1ZM617.7 1329.7L631.9 1337.8L631.9 1354.2L617.7 1362.3L603.5 1354.2L603.5 1337.8ZM626.3 1329.4L640.5 1337.5L640.5 1353.9L626.3 1362L612.1 1353.9L612.1 1337.5ZM634.9 1329L649.1 1337.1L649.1 1353.4L634.9 1361.6L620.7 1353.4L620.7 1337.1ZM643.5 1328.6L657.7 1336.7L657.7 1353L643.5 1361.2L629.3 1353L629.3 1336.7ZM652.1 1328.1L666.3 1336.3L666.3 1352.6L652.1 1360.7L637.9 1352.6L637.9 1336.3ZM660.7 1327.7L674.9 1335.9L674.9 1352.2L660.7 1360.3L646.5 1352.2L646.5 1335.9ZM669.3 1327.3L683.5 1335.4L683.5 1351.8L669.3 1359.9L655.1 1351.8L655.1 1335.4ZM677.9 1327L692.1 1335.1L692.1 1351.4L677.9 1359.6L663.7 1351.4L663.7 1335.1ZM686.5 1326.6L700.7 1334.8L700.7 1351.1L686.5 1359.2L672.3 1351.1L672.3 1334.8ZM695 1326.3L709.2 1334.4L709.2 1350.7L695 1358.9L680.8 1350.7L680.8 1334.4ZM703.6 1325.9L717.8 1334.1L717.8 1350.4L703.6 1358.5L689.4 1350.4L689.4 1334.1ZM712.2 1325.6L726.4 1333.8L726.4 1350.1L712.2 1358.2L698 1350.1L698 1333.8ZM720.8 1325.5L735 1333.6L735 1350L720.8 1358.1L706.6 1350L706.6 1333.6Z"/>
<path fill="#990085" d="M477.3 1336V1247.2L480.3 1244.2L483.3 1247.2V1336Z"/>
<path fill="#990085" d="M491.3 1346V1282.9L494.3 1279.9L497.3 1282.9V1310L499.4 1311V1346Z"/>
</g>
<g clip-path="url(#cr)" shape-rendering="crispEdges">
<polyline fill="none" stroke="#000000" stroke-width="6" stroke-linejoin="round" points="741,1333.6 756.8,1333.6 772.7,1333.6 788.6,1333.6 804.5,1333.5 820.3,1333.5 836.2,1333.5 852.1,1333 867.9,1332.8 883.8,1332.5 899.7,1332.2 915.6,1331.8 931.4,1331.4 947.3,1331.1 963.2,1330.8 979.1,1330.4 994.9,1329.9 1010.8,1329.4 1026.7,1328.9 1042.6,1328.3 1058.4,1327.7 1074.3,1327 1090.2,1326.3 1106.1,1325.7 1121.9,1325.1 1137.8,1324.6 1153.7,1324.1 1169.5,1323.6 1185.4,1323.1 1201.3,1322.7 1217.2,1322.3 1233,1321.9 1248.9,1321.6 1264.8,1321.3 1280.7,1321 1296.5,1320.8 1312.4,1320.7 1328.3,1320.7 1344.2,1320.7 1360,1320.9 1375.9,1321.2 1391.8,1321.7 1407.7,1322.3 1423.5,1323 1439.4,1324.2 1455.3,1325.5 1471.1,1327.1 1487,1328.3 1502.9,1329.6 1518.8,1330.3 1534.6,1331 1550.5,1331.6 1566.4,1332 1582.3,1332.3 1598.1,1332.6 1614,1333.2 1629.9,1333.2"/>
<path fill="#000000" d="M729 1321.6L753 1321.6L753 1345.6L729 1345.6ZM744.8 1321.6L768.8 1321.6L768.8 1345.6L744.8 1345.6ZM760.7 1321.6L784.7 1321.6L784.7 1345.6L760.7 1345.6ZM776.6 1321.6L800.6 1321.6L800.6 1345.6L776.6 1345.6ZM792.5 1321.5L816.5 1321.5L816.5 1345.5L792.5 1345.5ZM808.3 1321.5L832.3 1321.5L832.3 1345.5L808.3 1345.5ZM824.2 1321.5L848.2 1321.5L848.2 1345.5L824.2 1345.5ZM840.1 1321L864.1 1321L864.1 1345L840.1 1345ZM855.9 1320.8L879.9 1320.8L879.9 1344.8L855.9 1344.8ZM871.8 1320.5L895.8 1320.5L895.8 1344.5L871.8 1344.5ZM887.7 1320.2L911.7 1320.2L911.7 1344.2L887.7 1344.2ZM903.6 1319.8L927.6 1319.8L927.6 1343.8L903.6 1343.8ZM919.4 1319.4L943.4 1319.4L943.4 1343.4L919.4 1343.4ZM935.3 1319.1L959.3 1319.1L959.3 1343.1L935.3 1343.1ZM951.2 1318.8L975.2 1318.8L975.2 1342.8L951.2 1342.8ZM967.1 1318.4L991.1 1318.4L991.1 1342.4L967.1 1342.4ZM982.9 1317.9L1006.9 1317.9L1006.9 1341.9L982.9 1341.9ZM998.8 1317.4L1022.8 1317.4L1022.8 1341.4L998.8 1341.4ZM1014.7 1316.9L1038.7 1316.9L1038.7 1340.9L1014.7 1340.9ZM1030.6 1316.3L1054.6 1316.3L1054.6 1340.3L1030.6 1340.3ZM1046.4 1315.7L1070.4 1315.7L1070.4 1339.7L1046.4 1339.7ZM1062.3 1315L1086.3 1315L1086.3 1339L1062.3 1339ZM1078.2 1314.3L1102.2 1314.3L1102.2 1338.3L1078.2 1338.3ZM1094.1 1313.7L1118.1 1313.7L1118.1 1337.7L1094.1 1337.7ZM1109.9 1313.1L1133.9 1313.1L1133.9 1337.1L1109.9 1337.1ZM1125.8 1312.6L1149.8 1312.6L1149.8 1336.6L1125.8 1336.6ZM1141.7 1312.1L1165.7 1312.1L1165.7 1336.1L1141.7 1336.1ZM1157.5 1311.6L1181.5 1311.6L1181.5 1335.6L1157.5 1335.6ZM1173.4 1311.1L1197.4 1311.1L1197.4 1335.1L1173.4 1335.1ZM1189.3 1310.7L1213.3 1310.7L1213.3 1334.7L1189.3 1334.7ZM1205.2 1310.3L1229.2 1310.3L1229.2 1334.3L1205.2 1334.3ZM1221 1309.9L1245 1309.9L1245 1333.9L1221 1333.9ZM1236.9 1309.6L1260.9 1309.6L1260.9 1333.6L1236.9 1333.6ZM1252.8 1309.3L1276.8 1309.3L1276.8 1333.3L1252.8 1333.3ZM1268.7 1309L1292.7 1309L1292.7 1333L1268.7 1333ZM1284.5 1308.8L1308.5 1308.8L1308.5 1332.8L1284.5 1332.8ZM1300.4 1308.7L1324.4 1308.7L1324.4 1332.7L1300.4 1332.7ZM1316.3 1308.7L1340.3 1308.7L1340.3 1332.7L1316.3 1332.7ZM1332.2 1308.7L1356.2 1308.7L1356.2 1332.7L1332.2 1332.7ZM1348 1308.9L1372 1308.9L1372 1332.9L1348 1332.9ZM1363.9 1309.2L1387.9 1309.2L1387.9 1333.2L1363.9 1333.2ZM1379.8 1309.7L1403.8 1309.7L1403.8 1333.7L1379.8 1333.7ZM1395.7 1310.3L1419.7 1310.3L1419.7 1334.3L1395.7 1334.3ZM1411.5 1311L1435.5 1311L1435.5 1335L1411.5 1335ZM1427.4 1312.2L1451.4 1312.2L1451.4 1336.2L1427.4 1336.2ZM1443.3 1313.5L1467.3 1313.5L1467.3 1337.5L1443.3 1337.5ZM1459.1 1315.1L1483.1 1315.1L1483.1 1339.1L1459.1 1339.1ZM1475 1316.3L1499 1316.3L1499 1340.3L1475 1340.3ZM1490.9 1317.6L1514.9 1317.6L1514.9 1341.6L1490.9 1341.6ZM1506.8 1318.3L1530.8 1318.3L1530.8 1342.3L1506.8 1342.3ZM1522.6 1319L1546.6 1319L1546.6 1343L1522.6 1343ZM1538.5 1319.6L1562.5 1319.6L1562.5 1343.6L1538.5 1343.6ZM1554.4 1320L1578.4 1320L1578.4 1344L1554.4 1344ZM1570.3 1320.3L1594.3 1320.3L1594.3 1344.3L1570.3 1344.3ZM1586.1 1320.6L1610.1 1320.6L1610.1 1344.6L1586.1 1344.6ZM1602 1321.2L1626 1321.2L1626 1345.2L1602 1345.2ZM1617.9 1321.2L1641.9 1321.2L1641.9 1345.2L1617.9 1345.2Z"/>
<polyline fill="none" stroke="#ff0000" stroke-width="6" stroke-linejoin="round" points="741,1333.6 756.8,1333.6 772.7,1333.6 788.6,1333.6 804.5,1333.6 820.3,1333.5 836.2,1333.5 852.1,1332.9 867.9,1332.7 883.8,1332.3 899.7,1331.9 915.6,1331.5 931.4,1330.9 947.3,1330.6 963.2,1330.2 979.1,1329.7 994.9,1329.2 1010.8,1328.6 1026.7,1327.9 1042.6,1327.2 1058.4,1326.5 1074.3,1325.6 1090.2,1324.8 1106.1,1324.1 1121.9,1323.4 1137.8,1322.7 1153.7,1322.1 1169.5,1321.5 1185.4,1320.9 1201.3,1320.4 1217.2,1319.9 1233,1319.4 1248.9,1319 1264.8,1318.7 1280.7,1318.4 1296.5,1318.1 1312.4,1318 1328.3,1318 1344.2,1318 1360,1318.2 1375.9,1318.6 1391.8,1319.2 1407.7,1319.9 1423.5,1320.8 1439.4,1322.2 1455.3,1323.9 1471.1,1325.8 1487,1327.2 1502.9,1328.8 1518.8,1329.6 1534.6,1330.4 1550.5,1331.2 1566.4,1331.7 1582.3,1332.1 1598.1,1332.5 1614,1333.1 1629.9,1333.1"/>
<path fill="#ff0000" d="M736.2 1320.6L745.8 1320.6L750.2 1324.4L752.5 1327.6L752.5 1339.6L750.2 1342.8L745.8 1346.6L736.2 1346.6L731.8 1342.8L729.5 1339.6L729.5 1327.6L731.8 1324.4ZM752 1320.6L761.6 1320.6L766 1324.4L768.3 1327.6L768.3 1339.6L766 1342.8L761.6 1346.6L752 1346.6L747.6 1342.8L745.3 1339.6L745.3 1327.6L747.6 1324.4ZM767.9 1320.6L777.5 1320.6L781.9 1324.4L784.2 1327.6L784.2 1339.6L781.9 1342.8L777.5 1346.6L767.9 1346.6L763.5 1342.8L761.2 1339.6L761.2 1327.6L763.5 1324.4ZM783.8 1320.6L793.4 1320.6L797.8 1324.4L800.1 1327.6L800.1 1339.6L797.8 1342.8L793.4 1346.6L783.8 1346.6L779.4 1342.8L777.1 1339.6L777.1 1327.6L779.4 1324.4ZM799.7 1320.6L809.3 1320.6L813.7 1324.4L816 1327.6L816 1339.6L813.7 1342.8L809.3 1346.6L799.7 1346.6L795.3 1342.8L793 1339.6L793 1327.6L795.3 1324.4ZM815.5 1320.5L825.1 1320.5L829.5 1324.3L831.8 1327.5L831.8 1339.5L829.5 1342.7L825.1 1346.5L815.5 1346.5L811.1 1342.7L808.8 1339.5L808.8 1327.5L811.1 1324.3ZM831.4 1320.5L841 1320.5L845.4 1324.3L847.7 1327.5L847.7 1339.5L845.4 1342.7L841 1346.5L831.4 1346.5L827 1342.7L824.7 1339.5L824.7 1327.5L827 1324.3ZM847.3 1319.9L856.9 1319.9L861.3 1323.7L863.6 1326.9L863.6 1338.9L861.3 1342.1L856.9 1345.9L847.3 1345.9L842.9 1342.1L840.6 1338.9L840.6 1326.9L842.9 1323.7ZM863.1 1319.7L872.7 1319.7L877.1 1323.5L879.4 1326.7L879.4 1338.7L877.1 1341.9L872.7 1345.7L863.1 1345.7L858.7 1341.9L856.4 1338.7L856.4 1326.7L858.7 1323.5ZM879 1319.3L888.6 1319.3L893 1323.1L895.3 1326.3L895.3 1338.3L893 1341.5L888.6 1345.3L879 1345.3L874.6 1341.5L872.3 1338.3L872.3 1326.3L874.6 1323.1ZM894.9 1318.9L904.5 1318.9L908.9 1322.7L911.2 1325.9L911.2 1337.9L908.9 1341.1L904.5 1344.9L894.9 1344.9L890.5 1341.1L888.2 1337.9L888.2 1325.9L890.5 1322.7ZM910.8 1318.5L920.4 1318.5L924.8 1322.3L927.1 1325.5L927.1 1337.5L924.8 1340.7L920.4 1344.5L910.8 1344.5L906.4 1340.7L904.1 1337.5L904.1 1325.5L906.4 1322.3ZM926.6 1317.9L936.2 1317.9L940.6 1321.7L942.9 1324.9L942.9 1336.9L940.6 1340.1L936.2 1343.9L926.6 1343.9L922.2 1340.1L919.9 1336.9L919.9 1324.9L922.2 1321.7ZM942.5 1317.6L952.1 1317.6L956.5 1321.4L958.8 1324.6L958.8 1336.6L956.5 1339.8L952.1 1343.6L942.5 1343.6L938.1 1339.8L935.8 1336.6L935.8 1324.6L938.1 1321.4ZM958.4 1317.2L968 1317.2L972.4 1321L974.7 1324.2L974.7 1336.2L972.4 1339.4L968 1343.2L958.4 1343.2L954 1339.4L951.7 1336.2L951.7 1324.2L954 1321ZM974.3 1316.7L983.9 1316.7L988.3 1320.5L990.6 1323.7L990.6 1335.7L988.3 1338.9L983.9 1342.7L974.3 1342.7L969.9 1338.9L967.6 1335.7L967.6 1323.7L969.9 1320.5ZM990.1 1316.2L999.7 1316.2L1004.1 1320L1006.4 1323.2L1006.4 1335.2L1004.1 1338.4L999.7 1342.2L990.1 1342.2L985.7 1338.4L983.4 1335.2L983.4 1323.2L985.7 1320ZM1006 1315.6L1015.6 1315.6L1020 1319.4L1022.3 1322.6L1022.3 1334.6L1020 1337.8L1015.6 1341.6L1006 1341.6L1001.6 1337.8L999.3 1334.6L999.3 1322.6L1001.6 1319.4ZM1021.9 1314.9L1031.5 1314.9L1035.9 1318.7L1038.2 1321.9L1038.2 1333.9L1035.9 1337.1L1031.5 1340.9L1021.9 1340.9L1017.5 1337.1L1015.2 1333.9L1015.2 1321.9L1017.5 1318.7ZM1037.8 1314.2L1047.4 1314.2L1051.8 1318L1054.1 1321.2L1054.1 1333.2L1051.8 1336.4L1047.4 1340.2L1037.8 1340.2L1033.4 1336.4L1031.1 1333.2L1031.1 1321.2L1033.4 1318ZM1053.6 1313.5L1063.2 1313.5L1067.6 1317.3L1069.9 1320.5L1069.9 1332.5L1067.6 1335.7L1063.2 1339.5L1053.6 1339.5L1049.2 1335.7L1046.9 1332.5L1046.9 1320.5L1049.2 1317.3ZM1069.5 1312.6L1079.1 1312.6L1083.5 1316.4L1085.8 1319.6L1085.8 1331.6L1083.5 1334.8L1079.1 1338.6L1069.5 1338.6L1065.1 1334.8L1062.8 1331.6L1062.8 1319.6L1065.1 1316.4ZM1085.4 1311.8L1095 1311.8L1099.4 1315.6L1101.7 1318.8L1101.7 1330.8L1099.4 1334L1095 1337.8L1085.4 1337.8L1081 1334L1078.7 1330.8L1078.7 1318.8L1081 1315.6ZM1101.3 1311.1L1110.9 1311.1L1115.3 1314.9L1117.6 1318.1L1117.6 1330.1L1115.3 1333.3L1110.9 1337.1L1101.3 1337.1L1096.9 1333.3L1094.6 1330.1L1094.6 1318.1L1096.9 1314.9ZM1117.1 1310.4L1126.7 1310.4L1131.1 1314.2L1133.4 1317.4L1133.4 1329.4L1131.1 1332.6L1126.7 1336.4L1117.1 1336.4L1112.7 1332.6L1110.4 1329.4L1110.4 1317.4L1112.7 1314.2ZM1133 1309.7L1142.6 1309.7L1147 1313.5L1149.3 1316.7L1149.3 1328.7L1147 1331.9L1142.6 1335.7L1133 1335.7L1128.6 1331.9L1126.3 1328.7L1126.3 1316.7L1128.6 1313.5ZM1148.9 1309.1L1158.5 1309.1L1162.9 1312.9L1165.2 1316.1L1165.2 1328.1L1162.9 1331.3L1158.5 1335.1L1148.9 1335.1L1144.5 1331.3L1142.2 1328.1L1142.2 1316.1L1144.5 1312.9ZM1164.7 1308.5L1174.3 1308.5L1178.7 1312.3L1181 1315.5L1181 1327.5L1178.7 1330.7L1174.3 1334.5L1164.7 1334.5L1160.3 1330.7L1158 1327.5L1158 1315.5L1160.3 1312.3ZM1180.6 1307.9L1190.2 1307.9L1194.6 1311.7L1196.9 1314.9L1196.9 1326.9L1194.6 1330.1L1190.2 1333.9L1180.6 1333.9L1176.2 1330.1L1173.9 1326.9L1173.9 1314.9L1176.2 1311.7ZM1196.5 1307.4L1206.1 1307.4L1210.5 1311.2L1212.8 1314.4L1212.8 1326.4L1210.5 1329.6L1206.1 1333.4L1196.5 1333.4L1192.1 1329.6L1189.8 1326.4L1189.8 1314.4L1192.1 1311.2ZM1212.4 1306.9L1222 1306.9L1226.4 1310.7L1228.7 1313.9L1228.7 1325.9L1226.4 1329.1L1222 1332.9L1212.4 1332.9L1208 1329.1L1205.7 1325.9L1205.7 1313.9L1208 1310.7ZM1228.2 1306.4L1237.8 1306.4L1242.2 1310.2L1244.5 1313.4L1244.5 1325.4L1242.2 1328.6L1237.8 1332.4L1228.2 1332.4L1223.8 1328.6L1221.5 1325.4L1221.5 1313.4L1223.8 1310.2ZM1244.1 1306L1253.7 1306L1258.1 1309.8L1260.4 1313L1260.4 1325L1258.1 1328.2L1253.7 1332L1244.1 1332L1239.7 1328.2L1237.4 1325L1237.4 1313L1239.7 1309.8ZM1260 1305.7L1269.6 1305.7L1274 1309.5L1276.3 1312.7L1276.3 1324.7L1274 1327.9L1269.6 1331.7L1260 1331.7L1255.6 1327.9L1253.3 1324.7L1253.3 1312.7L1255.6 1309.5ZM1275.9 1305.4L1285.5 1305.4L1289.9 1309.2L1292.2 1312.4L1292.2 1324.4L1289.9 1327.6L1285.5 1331.4L1275.9 1331.4L1271.5 1327.6L1269.2 1324.4L1269.2 1312.4L1271.5 1309.2ZM1291.7 1305.1L1301.3 1305.1L1305.7 1308.9L1308 1312.1L1308 1324.1L1305.7 1327.3L1301.3 1331.1L1291.7 1331.1L1287.3 1327.3L1285 1324.1L1285 1312.1L1287.3 1308.9ZM1307.6 1305L1317.2 1305L1321.6 1308.8L1323.9 1312L1323.9 1324L1321.6 1327.2L1317.2 1331L1307.6 1331L1303.2 1327.2L1300.9 1324L1300.9 1312L1303.2 1308.8ZM1323.5 1305L1333.1 1305L1337.5 1308.8L1339.8 1312L1339.8 1324L1337.5 1327.2L1333.1 1331L1323.5 1331L1319.1 1327.2L1316.8 1324L1316.8 1312L1319.1 1308.8ZM1339.4 1305L1349 1305L1353.4 1308.8L1355.7 1312L1355.7 1324L1353.4 1327.2L1349 1331L1339.4 1331L1335 1327.2L1332.7 1324L1332.7 1312L1335 1308.8ZM1355.2 1305.2L1364.8 1305.2L1369.2 1309L1371.5 1312.2L1371.5 1324.2L1369.2 1327.4L1364.8 1331.2L1355.2 1331.2L1350.8 1327.4L1348.5 1324.2L1348.5 1312.2L1350.8 1309ZM1371.1 1305.6L1380.7 1305.6L1385.1 1309.4L1387.4 1312.6L1387.4 1324.6L1385.1 1327.8L1380.7 1331.6L1371.1 1331.6L1366.7 1327.8L1364.4 1324.6L1364.4 1312.6L1366.7 1309.4ZM1387 1306.2L1396.6 1306.2L1401 1310L1403.3 1313.2L1403.3 1325.2L1401 1328.4L1396.6 1332.2L1387 1332.2L1382.6 1328.4L1380.3 1325.2L1380.3 1313.2L1382.6 1310ZM1402.9 1306.9L1412.5 1306.9L1416.9 1310.7L1419.2 1313.9L1419.2 1325.9L1416.9 1329.1L1412.5 1332.9L1402.9 1332.9L1398.5 1329.1L1396.2 1325.9L1396.2 1313.9L1398.5 1310.7ZM1418.7 1307.8L1428.3 1307.8L1432.7 1311.6L1435 1314.8L1435 1326.8L1432.7 1330L1428.3 1333.8L1418.7 1333.8L1414.3 1330L1412 1326.8L1412 1314.8L1414.3 1311.6ZM1434.6 1309.2L1444.2 1309.2L1448.6 1313L1450.9 1316.2L1450.9 1328.2L1448.6 1331.4L1444.2 1335.2L1434.6 1335.2L1430.2 1331.4L1427.9 1328.2L1427.9 1316.2L1430.2 1313ZM1450.5 1310.9L1460.1 1310.9L1464.5 1314.7L1466.8 1317.9L1466.8 1329.9L1464.5 1333.1L1460.1 1336.9L1450.5 1336.9L1446.1 1333.1L1443.8 1329.9L1443.8 1317.9L1446.1 1314.7ZM1466.3 1312.8L1475.9 1312.8L1480.3 1316.5L1482.6 1319.8L1482.6 1331.8L1480.3 1335L1475.9 1338.8L1466.3 1338.8L1461.9 1335L1459.6 1331.8L1459.6 1319.8L1461.9 1316.5ZM1482.2 1314.2L1491.8 1314.2L1496.2 1318L1498.5 1321.2L1498.5 1333.2L1496.2 1336.4L1491.8 1340.2L1482.2 1340.2L1477.8 1336.4L1475.5 1333.2L1475.5 1321.2L1477.8 1318ZM1498.1 1315.8L1507.7 1315.8L1512.1 1319.6L1514.4 1322.8L1514.4 1334.8L1512.1 1338L1507.7 1341.8L1498.1 1341.8L1493.7 1338L1491.4 1334.8L1491.4 1322.8L1493.7 1319.6ZM1514 1316.6L1523.6 1316.6L1528 1320.4L1530.3 1323.6L1530.3 1335.6L1528 1338.8L1523.6 1342.6L1514 1342.6L1509.6 1338.8L1507.3 1335.6L1507.3 1323.6L1509.6 1320.4ZM1529.8 1317.4L1539.4 1317.4L1543.8 1321.2L1546.1 1324.4L1546.1 1336.4L1543.8 1339.6L1539.4 1343.4L1529.8 1343.4L1525.4 1339.6L1523.1 1336.4L1523.1 1324.4L1525.4 1321.2ZM1545.7 1318.2L1555.3 1318.2L1559.7 1322L1562 1325.2L1562 1337.2L1559.7 1340.4L1555.3 1344.2L1545.7 1344.2L1541.3 1340.4L1539 1337.2L1539 1325.2L1541.3 1322ZM1561.6 1318.7L1571.2 1318.7L1575.6 1322.5L1577.9 1325.7L1577.9 1337.7L1575.6 1340.9L1571.2 1344.7L1561.6 1344.7L1557.2 1340.9L1554.9 1337.7L1554.9 1325.7L1557.2 1322.5ZM1577.5 1319.1L1587.1 1319.1L1591.5 1322.9L1593.8 1326.1L1593.8 1338.1L1591.5 1341.3L1587.1 1345.1L1577.5 1345.1L1573.1 1341.3L1570.8 1338.1L1570.8 1326.1L1573.1 1322.9ZM1593.3 1319.5L1602.9 1319.5L1607.3 1323.3L1609.6 1326.5L1609.6 1338.5L1607.3 1341.7L1602.9 1345.5L1593.3 1345.5L1588.9 1341.7L1586.6 1338.5L1586.6 1326.5L1588.9 1323.3ZM1609.2 1320.1L1618.8 1320.1L1623.2 1323.9L1625.5 1327.1L1625.5 1339.1L1623.2 1342.3L1618.8 1346.1L1609.2 1346.1L1604.8 1342.3L1602.5 1339.1L1602.5 1327.1L1604.8 1323.9ZM1625.1 1320.1L1634.7 1320.1L1639.1 1323.9L1641.4 1327.1L1641.4 1339.1L1639.1 1342.3L1634.7 1346.1L1625.1 1346.1L1620.7 1342.3L1618.4 1339.1L1618.4 1327.1L1620.7 1323.9Z"/>
<polyline fill="none" stroke="#0000ff" stroke-width="6" stroke-linejoin="round" points="741,1333.6 756.8,1333.6 772.7,1333.6 788.6,1333.6 804.5,1333.6 820.3,1333.5 836.2,1333.5 852.1,1332.7 867.9,1332.3 883.8,1331.9 899.7,1331.3 915.6,1330.7 931.4,1330 947.3,1329.5 963.2,1329 979.1,1328.3 994.9,1327.6 1010.8,1326.7 1026.7,1325.8 1042.6,1324.8 1058.4,1323.8 1074.3,1322.7 1090.2,1321.6 1106.1,1320.5 1121.9,1319.6 1137.8,1318.7 1153.7,1317.8 1169.5,1317 1185.4,1316.2 1201.3,1315.5 1217.2,1314.8 1233,1314.2 1248.9,1313.6 1264.8,1313.2 1280.7,1312.7 1296.5,1312.4 1312.4,1312.2 1328.3,1312.2 1344.2,1312.2 1360,1312.5 1375.9,1313.1 1391.8,1313.8 1407.7,1314.8 1423.5,1316.1 1439.4,1317.9 1455.3,1320.3 1471.1,1322.8 1487,1324.8 1502.9,1327 1518.8,1328.1 1534.6,1329.3 1550.5,1330.4 1566.4,1331 1582.3,1331.6 1598.1,1332.1 1614,1332.9 1629.9,1332.9"/>
<path fill="#0000ff" d="M741 1314L757.9 1344.2L724.1 1344.2ZM756.8 1314L773.7 1344.2L739.9 1344.2ZM772.7 1314L789.6 1344.2L755.8 1344.2ZM788.6 1314L805.5 1344.2L771.7 1344.2ZM804.5 1314L821.4 1344.2L787.6 1344.2ZM820.3 1313.9L837.2 1344.1L803.4 1344.1ZM836.2 1313.9L853.1 1344.1L819.3 1344.1ZM852.1 1313.1L869 1343.3L835.2 1343.3ZM867.9 1312.7L884.8 1342.9L851 1342.9ZM883.8 1312.3L900.7 1342.5L866.9 1342.5ZM899.7 1311.7L916.6 1341.9L882.8 1341.9ZM915.6 1311.1L932.5 1341.3L898.7 1341.3ZM931.4 1310.4L948.3 1340.5L914.5 1340.5ZM947.3 1309.9L964.2 1340.1L930.4 1340.1ZM963.2 1309.4L980.1 1339.6L946.3 1339.6ZM979.1 1308.7L996 1338.9L962.2 1338.9ZM994.9 1308L1011.8 1338.2L978 1338.2ZM1010.8 1307.1L1027.7 1337.3L993.9 1337.3ZM1026.7 1306.2L1043.6 1336.4L1009.8 1336.4ZM1042.6 1305.2L1059.5 1335.4L1025.7 1335.4ZM1058.4 1304.2L1075.3 1334.4L1041.5 1334.4ZM1074.3 1303.1L1091.2 1333.3L1057.4 1333.3ZM1090.2 1302L1107.1 1332.2L1073.3 1332.2ZM1106.1 1300.9L1123 1331.1L1089.2 1331.1ZM1121.9 1300L1138.8 1330.2L1105 1330.2ZM1137.8 1299.1L1154.7 1329.3L1120.9 1329.3ZM1153.7 1298.2L1170.6 1328.4L1136.8 1328.4ZM1169.5 1297.4L1186.4 1327.6L1152.6 1327.6ZM1185.4 1296.6L1202.3 1326.8L1168.5 1326.8ZM1201.3 1295.9L1218.2 1326.1L1184.4 1326.1ZM1217.2 1295.2L1234.1 1325.4L1200.3 1325.4ZM1233 1294.6L1249.9 1324.8L1216.1 1324.8ZM1248.9 1294L1265.8 1324.2L1232 1324.2ZM1264.8 1293.6L1281.7 1323.8L1247.9 1323.8ZM1280.7 1293.1L1297.6 1323.3L1263.8 1323.3ZM1296.5 1292.8L1313.4 1323L1279.6 1323ZM1312.4 1292.6L1329.3 1322.8L1295.5 1322.8ZM1328.3 1292.6L1345.2 1322.8L1311.4 1322.8ZM1344.2 1292.6L1361.1 1322.8L1327.3 1322.8ZM1360 1292.9L1376.9 1323.1L1343.1 1323.1ZM1375.9 1293.5L1392.8 1323.7L1359 1323.7ZM1391.8 1294.2L1408.7 1324.4L1374.9 1324.4ZM1407.7 1295.2L1424.6 1325.4L1390.8 1325.4ZM1423.5 1296.5L1440.4 1326.7L1406.6 1326.7ZM1439.4 1298.3L1456.3 1328.5L1422.5 1328.5ZM1455.3 1300.7L1472.2 1330.9L1438.4 1330.9ZM1471.1 1303.2L1488 1333.4L1454.2 1333.4ZM1487 1305.2L1503.9 1335.4L1470.1 1335.4ZM1502.9 1307.4L1519.8 1337.6L1486 1337.6ZM1518.8 1308.5L1535.7 1338.7L1501.9 1338.7ZM1534.6 1309.7L1551.5 1339.9L1517.7 1339.9ZM1550.5 1310.8L1567.4 1341L1533.6 1341ZM1566.4 1311.4L1583.3 1341.6L1549.5 1341.6ZM1582.3 1312L1599.2 1342.2L1565.4 1342.2ZM1598.1 1312.5L1615 1342.7L1581.2 1342.7ZM1614 1313.3L1630.9 1343.5L1597.1 1343.5ZM1629.9 1313.3L1646.8 1343.5L1613 1343.5Z"/>
<polyline fill="none" stroke="#ff00ff" stroke-width="6" stroke-linejoin="round" points="741,1333.7 756.8,1333.7 772.7,1333.7 788.6,1333.7 804.5,1333.6 820.3,1333.6 836.2,1333.5 852.1,1332.3 867.9,1331.7 883.8,1331 899.7,1330.1 915.6,1329.2 931.4,1328 947.3,1327.2 963.2,1326.5 979.1,1325.5 994.9,1324.3 1010.8,1323 1026.7,1321.6 1042.6,1320.1 1058.4,1318.5 1074.3,1316.8 1090.2,1315 1106.1,1313.4 1121.9,1311.9 1137.8,1310.5 1153.7,1309.2 1169.5,1308 1185.4,1306.8 1201.3,1305.6 1217.2,1304.5 1233,1303.6 1248.9,1302.7 1264.8,1302 1280.7,1301.3 1296.5,1300.8 1312.4,1300.5 1328.3,1300.5 1344.2,1300.5 1360,1300.9 1375.9,1301.9 1391.8,1303 1407.7,1304.5 1423.5,1306.5 1439.4,1309.4 1455.3,1313 1471.1,1317 1487,1320 1502.9,1323.5 1518.8,1325.2 1534.6,1327 1550.5,1328.7 1566.4,1329.6 1582.3,1330.5 1598.1,1331.3 1614,1332.6 1629.9,1332.6"/>
<path fill="#ff00ff" d="M741 1353.3L757.9 1323.1L724.1 1323.1ZM756.8 1353.3L773.7 1323.1L739.9 1323.1ZM772.7 1353.3L789.6 1323.1L755.8 1323.1ZM788.6 1353.3L805.5 1323.1L771.7 1323.1ZM804.5 1353.2L821.4 1323L787.6 1323ZM820.3 1353.2L837.2 1323L803.4 1323ZM836.2 1353.1L853.1 1322.9L819.3 1322.9ZM852.1 1351.9L869 1321.7L835.2 1321.7ZM867.9 1351.3L884.8 1321.1L851 1321.1ZM883.8 1350.6L900.7 1320.4L866.9 1320.4ZM899.7 1349.7L916.6 1319.5L882.8 1319.5ZM915.6 1348.8L932.5 1318.6L898.7 1318.6ZM931.4 1347.6L948.3 1317.4L914.5 1317.4ZM947.3 1346.8L964.2 1316.6L930.4 1316.6ZM963.2 1346.1L980.1 1315.9L946.3 1315.9ZM979.1 1345.1L996 1314.9L962.2 1314.9ZM994.9 1343.9L1011.8 1313.7L978 1313.7ZM1010.8 1342.6L1027.7 1312.4L993.9 1312.4ZM1026.7 1341.2L1043.6 1311L1009.8 1311ZM1042.6 1339.7L1059.5 1309.5L1025.7 1309.5ZM1058.4 1338.1L1075.3 1307.9L1041.5 1307.9ZM1074.3 1336.3L1091.2 1306.2L1057.4 1306.2ZM1090.2 1334.6L1107.1 1304.4L1073.3 1304.4ZM1106.1 1333L1123 1302.8L1089.2 1302.8ZM1121.9 1331.5L1138.8 1301.3L1105 1301.3ZM1137.8 1330.1L1154.7 1299.9L1120.9 1299.9ZM1153.7 1328.8L1170.6 1298.6L1136.8 1298.6ZM1169.5 1327.6L1186.4 1297.4L1152.6 1297.4ZM1185.4 1326.4L1202.3 1296.2L1168.5 1296.2ZM1201.3 1325.2L1218.2 1295L1184.4 1295ZM1217.2 1324.1L1234.1 1293.9L1200.3 1293.9ZM1233 1323.2L1249.9 1293L1216.1 1293ZM1248.9 1322.3L1265.8 1292.1L1232 1292.1ZM1264.8 1321.6L1281.7 1291.4L1247.9 1291.4ZM1280.7 1320.9L1297.6 1290.7L1263.8 1290.7ZM1296.5 1320.3L1313.4 1290.2L1279.6 1290.2ZM1312.4 1320.1L1329.3 1289.9L1295.5 1289.9ZM1328.3 1320.1L1345.2 1289.9L1311.4 1289.9ZM1344.2 1320.1L1361.1 1289.9L1327.3 1289.9ZM1360 1320.5L1376.9 1290.3L1343.1 1290.3ZM1375.9 1321.5L1392.8 1291.3L1359 1291.3ZM1391.8 1322.6L1408.7 1292.4L1374.9 1292.4ZM1407.7 1324.1L1424.6 1293.9L1390.8 1293.9ZM1423.5 1326.1L1440.4 1295.9L1406.6 1295.9ZM1439.4 1329L1456.3 1298.8L1422.5 1298.8ZM1455.3 1332.6L1472.2 1302.4L1438.4 1302.4ZM1471.1 1336.6L1488 1306.4L1454.2 1306.4ZM1487 1339.6L1503.9 1309.4L1470.1 1309.4ZM1502.9 1343.1L1519.8 1312.9L1486 1312.9ZM1518.8 1344.8L1535.7 1314.6L1501.9 1314.6ZM1534.6 1346.6L1551.5 1316.4L1517.7 1316.4ZM1550.5 1348.3L1567.4 1318.1L1533.6 1318.1ZM1566.4 1349.2L1583.3 1319L1549.5 1319ZM1582.3 1350.1L1599.2 1319.9L1565.4 1319.9ZM1598.1 1350.9L1615 1320.7L1581.2 1320.7ZM1614 1352.2L1630.9 1322L1597.1 1322ZM1629.9 1352.2L1646.8 1322L1613 1322Z"/>
<polyline fill="none" stroke="#008000" stroke-width="6" stroke-linejoin="round" points="741,1333.3 756.8,1333.3 772.7,1333.3 788.6,1333.3 804.5,1333.3 820.3,1333.3 836.2,1331.6 852.1,1330.2 867.9,1329.5 883.8,1328.9 899.7,1327.8 915.6,1326.8 931.4,1325.6 947.3,1324.5 963.2,1323.3 979.1,1322 994.9,1320.6 1010.8,1319.1 1026.7,1317.5 1042.6,1315.6 1058.4,1313.5 1074.3,1311.3 1090.2,1309 1106.1,1306.6 1121.9,1304 1137.8,1301.5 1153.7,1299 1169.5,1296.5 1185.4,1294.2 1201.3,1292.4 1217.2,1289.8 1233,1286.3 1248.9,1282.8 1264.8,1280.2 1280.7,1278.4 1296.5,1276.7 1312.4,1275.3 1328.3,1273.2 1344.2,1273.2 1360,1275 1375.9,1275.6 1391.8,1277.5 1407.7,1281.6 1423.5,1286 1439.4,1289.5 1455.3,1293.8 1471.1,1299.8 1487,1305.6 1502.9,1311.7 1518.8,1316.5 1534.6,1322.5 1550.5,1327 1566.4,1330 1582.3,1332 1598.1,1334 1614,1334 1629.9,1334"/>
<path fill="#008000" d="M741 1315.3L758.4 1333.3L741 1351.3L723.6 1333.3ZM756.8 1315.3L774.2 1333.3L756.8 1351.3L739.4 1333.3ZM772.7 1315.3L790.1 1333.3L772.7 1351.3L755.3 1333.3ZM788.6 1315.3L806 1333.3L788.6 1351.3L771.2 1333.3ZM804.5 1315.3L821.9 1333.3L804.5 1351.3L787.1 1333.3ZM820.3 1315.3L837.7 1333.3L820.3 1351.3L802.9 1333.3ZM836.2 1313.6L853.6 1331.6L836.2 1349.6L818.8 1331.6ZM852.1 1312.2L869.5 1330.2L852.1 1348.2L834.7 1330.2ZM867.9 1311.5L885.3 1329.5L867.9 1347.5L850.5 1329.5ZM883.8 1310.9L901.2 1328.9L883.8 1346.9L866.4 1328.9ZM899.7 1309.8L917.1 1327.8L899.7 1345.8L882.3 1327.8ZM915.6 1308.8L933 1326.8L915.6 1344.8L898.2 1326.8ZM931.4 1307.6L948.8 1325.6L931.4 1343.6L914 1325.6ZM947.3 1306.5L964.7 1324.5L947.3 1342.5L929.9 1324.5ZM963.2 1305.3L980.6 1323.3L963.2 1341.3L945.8 1323.3ZM979.1 1304L996.5 1322L979.1 1340L961.7 1322ZM994.9 1302.6L1012.3 1320.6L994.9 1338.6L977.5 1320.6ZM1010.8 1301.1L1028.2 1319.1L1010.8 1337.1L993.4 1319.1ZM1026.7 1299.5L1044.1 1317.5L1026.7 1335.5L1009.3 1317.5ZM1042.6 1297.6L1060 1315.6L1042.6 1333.6L1025.2 1315.6ZM1058.4 1295.5L1075.8 1313.5L1058.4 1331.5L1041 1313.5ZM1074.3 1293.3L1091.7 1311.3L1074.3 1329.3L1056.9 1311.3ZM1090.2 1291L1107.6 1309L1090.2 1327L1072.8 1309ZM1106.1 1288.6L1123.5 1306.6L1106.1 1324.6L1088.7 1306.6ZM1121.9 1286L1139.3 1304L1121.9 1322L1104.5 1304ZM1137.8 1283.5L1155.2 1301.5L1137.8 1319.5L1120.4 1301.5ZM1153.7 1281L1171.1 1299L1153.7 1317L1136.3 1299ZM1169.5 1278.5L1186.9 1296.5L1169.5 1314.5L1152.1 1296.5ZM1185.4 1276.2L1202.8 1294.2L1185.4 1312.2L1168 1294.2ZM1201.3 1274.4L1218.7 1292.4L1201.3 1310.4L1183.9 1292.4ZM1217.2 1271.8L1234.6 1289.8L1217.2 1307.8L1199.8 1289.8ZM1233 1268.3L1250.4 1286.3L1233 1304.3L1215.6 1286.3ZM1248.9 1264.8L1266.3 1282.8L1248.9 1300.8L1231.5 1282.8ZM1264.8 1262.2L1282.2 1280.2L1264.8 1298.2L1247.4 1280.2ZM1280.7 1260.4L1298.1 1278.4L1280.7 1296.4L1263.3 1278.4ZM1296.5 1258.7L1313.9 1276.7L1296.5 1294.7L1279.1 1276.7ZM1312.4 1257.3L1329.8 1275.3L1312.4 1293.3L1295 1275.3ZM1328.3 1255.2L1345.7 1273.2L1328.3 1291.2L1310.9 1273.2ZM1344.2 1255.2L1361.6 1273.2L1344.2 1291.2L1326.8 1273.2ZM1360 1257L1377.4 1275L1360 1293L1342.6 1275ZM1375.9 1257.6L1393.3 1275.6L1375.9 1293.6L1358.5 1275.6ZM1391.8 1259.5L1409.2 1277.5L1391.8 1295.5L1374.4 1277.5ZM1407.7 1263.6L1425.1 1281.6L1407.7 1299.6L1390.3 1281.6ZM1423.5 1268L1440.9 1286L1423.5 1304L1406.1 1286ZM1439.4 1271.5L1456.8 1289.5L1439.4 1307.5L1422 1289.5ZM1455.3 1275.8L1472.7 1293.8L1455.3 1311.8L1437.9 1293.8ZM1471.1 1281.8L1488.5 1299.8L1471.1 1317.8L1453.7 1299.8ZM1487 1287.6L1504.4 1305.6L1487 1323.6L1469.6 1305.6ZM1502.9 1293.7L1520.3 1311.7L1502.9 1329.7L1485.5 1311.7ZM1518.8 1298.5L1536.2 1316.5L1518.8 1334.5L1501.4 1316.5ZM1534.6 1304.5L1552 1322.5L1534.6 1340.5L1517.2 1322.5ZM1550.5 1309L1567.9 1327L1550.5 1345L1533.1 1327ZM1566.4 1312L1583.8 1330L1566.4 1348L1549 1330ZM1582.3 1314L1599.7 1332L1582.3 1350L1564.9 1332ZM1598.1 1316L1615.5 1334L1598.1 1352L1580.7 1334ZM1614 1316L1631.4 1334L1614 1352L1596.6 1334ZM1629.9 1316L1647.3 1334L1629.9 1352L1612.5 1334Z"/>
<polyline fill="none" stroke="#000080" stroke-width="6" stroke-linejoin="round" points="741,1333.5 756.8,1333.5 772.7,1333.5 788.6,1333.5 804.5,1333.5 820.3,1333.5 836.2,1333.1 852.1,1331 867.9,1328.9 883.8,1326.8 899.7,1324.4 915.6,1322 931.4,1319.5 947.3,1317 963.2,1314.5 979.1,1312 994.9,1309.5 1010.8,1306.9 1026.7,1304.3 1042.6,1301.6 1058.4,1298.5 1074.3,1294.4 1090.2,1289.5 1106.1,1284.2 1121.9,1278.5 1137.8,1272.2 1153.7,1266.7 1169.5,1263.2 1185.4,1257.9 1201.3,1250.9 1217.2,1245.7 1233,1239.5 1248.9,1235.1 1264.8,1229.9 1280.7,1224.6 1296.5,1220.3 1312.4,1214.1 1328.3,1210.6 1344.2,1208.9 1360,1206.2 1375.9,1205.2 1391.8,1205.2 1407.7,1209.2 1423.5,1213.1 1439.4,1219.2 1455.3,1227.1 1471.1,1239 1487,1251.3 1502.9,1263 1518.8,1277 1534.6,1291 1550.5,1303 1566.4,1312.9 1582.3,1321.2 1598.1,1327 1614,1331.3 1629.9,1334"/>
<path fill="#000080" d="M721.2 1333.5L751.2 1316.7L751.2 1350.3ZM737 1333.5L767 1316.7L767 1350.3ZM752.9 1333.5L782.9 1316.7L782.9 1350.3ZM768.8 1333.5L798.8 1316.7L798.8 1350.3ZM784.7 1333.5L814.7 1316.7L814.7 1350.3ZM800.5 1333.5L830.5 1316.7L830.5 1350.3ZM816.4 1333.1L846.4 1316.3L846.4 1349.9ZM832.3 1331L862.3 1314.2L862.3 1347.8ZM848.1 1328.9L878.1 1312.1L878.1 1345.7ZM864 1326.8L894 1310L894 1343.6ZM879.9 1324.4L909.9 1307.6L909.9 1341.2ZM895.8 1322L925.8 1305.2L925.8 1338.8ZM911.6 1319.5L941.6 1302.7L941.6 1336.3ZM927.5 1317L957.5 1300.2L957.5 1333.8ZM943.4 1314.5L973.4 1297.7L973.4 1331.3ZM959.3 1312L989.3 1295.2L989.3 1328.8ZM975.1 1309.5L1005.1 1292.7L1005.1 1326.3ZM991 1306.9L1021 1290.1L1021 1323.7ZM1006.9 1304.3L1036.9 1287.5L1036.9 1321.1ZM1022.8 1301.6L1052.8 1284.8L1052.8 1318.4ZM1038.6 1298.5L1068.6 1281.7L1068.6 1315.3ZM1054.5 1294.4L1084.5 1277.6L1084.5 1311.2ZM1070.4 1289.5L1100.4 1272.7L1100.4 1306.3ZM1086.3 1284.2L1116.3 1267.4L1116.3 1301ZM1102.1 1278.5L1132.1 1261.7L1132.1 1295.3ZM1118 1272.2L1148 1255.4L1148 1289ZM1133.9 1266.7L1163.9 1249.9L1163.9 1283.5ZM1149.7 1263.2L1179.7 1246.4L1179.7 1280ZM1165.6 1257.9L1195.6 1241.1L1195.6 1274.7ZM1181.5 1250.9L1211.5 1234.1L1211.5 1267.7ZM1197.4 1245.7L1227.4 1228.9L1227.4 1262.5ZM1213.2 1239.5L1243.2 1222.7L1243.2 1256.3ZM1229.1 1235.1L1259.1 1218.3L1259.1 1251.9ZM1245 1229.9L1275 1213.1L1275 1246.7ZM1260.9 1224.6L1290.9 1207.8L1290.9 1241.4ZM1276.7 1220.3L1306.7 1203.5L1306.7 1237.1ZM1292.6 1214.1L1322.6 1197.3L1322.6 1230.9ZM1308.5 1210.6L1338.5 1193.8L1338.5 1227.4ZM1324.4 1208.9L1354.4 1192.1L1354.4 1225.7ZM1340.2 1206.2L1370.2 1189.4L1370.2 1223ZM1356.1 1205.2L1386.1 1188.4L1386.1 1222ZM1372 1205.2L1402 1188.4L1402 1222ZM1387.9 1209.2L1417.9 1192.4L1417.9 1226ZM1403.7 1213.1L1433.7 1196.3L1433.7 1229.9ZM1419.6 1219.2L1449.6 1202.4L1449.6 1236ZM1435.5 1227.1L1465.5 1210.3L1465.5 1243.9ZM1451.3 1239L1481.3 1222.2L1481.3 1255.8ZM1467.2 1251.3L1497.2 1234.5L1497.2 1268.1ZM1483.1 1263L1513.1 1246.2L1513.1 1279.8ZM1499 1277L1529 1260.2L1529 1293.8ZM1514.8 1291L1544.8 1274.2L1544.8 1307.8ZM1530.7 1303L1560.7 1286.2L1560.7 1319.8ZM1546.6 1312.9L1576.6 1296.1L1576.6 1329.7ZM1562.5 1321.2L1592.5 1304.4L1592.5 1338ZM1578.3 1327L1608.3 1310.2L1608.3 1343.8ZM1594.2 1331.3L1624.2 1314.5L1624.2 1348.1ZM1610.1 1334L1640.1 1317.2L1640.1 1350.8Z"/>
<polyline fill="none" stroke="#9900ff" stroke-width="6" stroke-linejoin="round" points="741,1333.5 756.8,1333.5 772.7,1333.5 788.6,1333.5 804.5,1333.5 820.3,1333.5 836.2,1332 852.1,1329.5 867.9,1327.1 883.8,1324.5 899.7,1321.5 915.6,1318.3 931.4,1314.6 947.3,1309.6 963.2,1303.5 979.1,1296.8 994.9,1290.7 1010.8,1284.6 1026.7,1278.6 1042.6,1270.5 1058.4,1262.7 1074.3,1254.8 1090.2,1246.5 1106.1,1236.6 1121.9,1226.7 1137.8,1216.8 1153.7,1204.5 1169.5,1193 1185.4,1180.7 1201.3,1166.7 1217.2,1150.9 1233,1136.9 1248.9,1121.1 1264.8,1104.8 1280.7,1087 1296.5,1071.2 1312.4,1053.1 1328.3,1037 1344.2,1019.2 1360,1002.9 1375.9,987.1 1391.8,975.2 1407.7,962.9 1423.5,954.7 1439.4,952.9 1455.3,952.9 1471.1,961.3 1487,975.3 1502.9,995.5 1518.8,1020.9 1534.6,1055.1 1550.5,1093.1 1566.4,1134.8 1582.3,1178.6 1598.1,1222.5 1614,1261 1629.9,1293.7"/>
<path fill="#9900ff" d="M760.9 1333.5L730.9 1316.4L730.9 1350.6ZM776.7 1333.5L746.7 1316.4L746.7 1350.6ZM792.6 1333.5L762.6 1316.4L762.6 1350.6ZM808.5 1333.5L778.5 1316.4L778.5 1350.6ZM824.4 1333.5L794.4 1316.4L794.4 1350.6ZM840.2 1333.5L810.2 1316.4L810.2 1350.6ZM856.1 1332L826.1 1314.9L826.1 1349.1ZM872 1329.5L842 1312.4L842 1346.6ZM887.8 1327.1L857.8 1310L857.8 1344.2ZM903.7 1324.5L873.7 1307.4L873.7 1341.6ZM919.6 1321.5L889.6 1304.4L889.6 1338.6ZM935.5 1318.3L905.5 1301.2L905.5 1335.4ZM951.3 1314.6L921.3 1297.5L921.3 1331.7ZM967.2 1309.6L937.2 1292.5L937.2 1326.7ZM983.1 1303.5L953.1 1286.4L953.1 1320.6ZM999 1296.8L969 1279.7L969 1313.9ZM1014.8 1290.7L984.8 1273.6L984.8 1307.8ZM1030.7 1284.6L1000.7 1267.5L1000.7 1301.7ZM1046.6 1278.6L1016.6 1261.5L1016.6 1295.7ZM1062.5 1270.5L1032.5 1253.4L1032.5 1287.6ZM1078.3 1262.7L1048.3 1245.6L1048.3 1279.8ZM1094.2 1254.8L1064.2 1237.7L1064.2 1271.9ZM1110.1 1246.5L1080.1 1229.4L1080.1 1263.6ZM1126 1236.6L1096 1219.5L1096 1253.7ZM1141.8 1226.7L1111.8 1209.6L1111.8 1243.8ZM1157.7 1216.8L1127.7 1199.7L1127.7 1233.9ZM1173.6 1204.5L1143.6 1187.4L1143.6 1221.6ZM1189.4 1193L1159.4 1175.9L1159.4 1210.1ZM1205.3 1180.7L1175.3 1163.6L1175.3 1197.8ZM1221.2 1166.7L1191.2 1149.6L1191.2 1183.8ZM1237.1 1150.9L1207.1 1133.8L1207.1 1168ZM1252.9 1136.9L1222.9 1119.8L1222.9 1154ZM1268.8 1121.1L1238.8 1104L1238.8 1138.2ZM1284.7 1104.8L1254.7 1087.7L1254.7 1121.9ZM1300.6 1087L1270.6 1069.9L1270.6 1104.1ZM1316.4 1071.2L1286.4 1054.1L1286.4 1088.3ZM1332.3 1053.1L1302.3 1036L1302.3 1070.2ZM1348.2 1037L1318.2 1019.9L1318.2 1054.1ZM1364.1 1019.2L1334.1 1002.1L1334.1 1036.3ZM1379.9 1002.9L1349.9 985.8L1349.9 1020ZM1395.8 987.1L1365.8 970L1365.8 1004.2ZM1411.7 975.2L1381.7 958.1L1381.7 992.3ZM1427.6 962.9L1397.6 945.8L1397.6 980ZM1443.4 954.7L1413.4 937.6L1413.4 971.8ZM1459.3 952.9L1429.3 935.8L1429.3 970ZM1475.2 952.9L1445.2 935.8L1445.2 970ZM1491 961.3L1461 944.2L1461 978.4ZM1506.9 975.3L1476.9 958.2L1476.9 992.4ZM1522.8 995.5L1492.8 978.4L1492.8 1012.6ZM1538.7 1020.9L1508.7 1003.8L1508.7 1038ZM1554.5 1055.1L1524.5 1038L1524.5 1072.2ZM1570.4 1093.1L1540.4 1076L1540.4 1110.2ZM1586.3 1134.8L1556.3 1117.7L1556.3 1151.9ZM1602.2 1178.6L1572.2 1161.5L1572.2 1195.7ZM1618 1222.5L1588 1205.4L1588 1239.6ZM1633.9 1261L1603.9 1243.9L1603.9 1278.1ZM1649.8 1293.7L1619.8 1276.6L1619.8 1310.8Z"/>
<polyline fill="none" stroke="#990085" stroke-width="6" stroke-linejoin="round" points="741,1333.3 756.8,1333.3 772.7,1333.3 788.6,1333.3 804.5,1333.3 820.3,1332.8 836.2,1330.5 852.1,1326.1 867.9,1320.5 883.8,1313.9 899.7,1306.2 915.6,1297.6 931.4,1286.4 947.3,1274.7 963.2,1262 979.1,1247.9 994.9,1231.5 1010.8,1213.5 1026.7,1193.4 1042.6,1173.8 1058.4,1150.7 1074.3,1123.4 1090.2,1093.2 1106.1,1061.3 1121.9,1027.9 1137.8,987.6 1153.7,944.1 1169.5,898.2 1185.4,844.8 1201.3,784.3 1217.2,716.6 1233,642.1 1248.9,558.5 1264.8,465.3 1280.7,358.6 1296.5,268 1312.4,259.2 1328.3,271.1 1344.2,282.6 1360,293.2 1375.9,303.4 1391.8,313.4 1407.7,323.8 1423.5,334.6 1439.4,345.4 1455.3,355.8 1471.1,365.4 1487,374.4 1502.9,382.9 1518.8,390.9 1534.6,398.5 1550.5,405 1566.4,410.8 1582.3,416.7 1598.1,422.7 1614,428.6 1629.9,433"/>
<path fill="#990085" d="M741 1317L755.2 1325.1L755.2 1341.5L741 1349.6L726.8 1341.5L726.8 1325.1ZM756.8 1317L771 1325.1L771 1341.5L756.8 1349.6L742.6 1341.5L742.6 1325.1ZM772.7 1317L786.9 1325.1L786.9 1341.5L772.7 1349.6L758.5 1341.5L758.5 1325.1ZM788.6 1317L802.8 1325.1L802.8 1341.5L788.6 1349.6L774.4 1341.5L774.4 1325.1ZM804.5 1317L818.7 1325.1L818.7 1341.5L804.5 1349.6L790.3 1341.5L790.3 1325.1ZM820.3 1316.5L834.5 1324.6L834.5 1341L820.3 1349.1L806.1 1341L806.1 1324.6ZM836.2 1314.2L850.4 1322.3L850.4 1338.7L836.2 1346.8L822 1338.7L822 1322.3ZM852.1 1309.8L866.3 1317.9L866.3 1334.2L852.1 1342.4L837.9 1334.2L837.9 1317.9ZM867.9 1304.2L882.1 1312.3L882.1 1328.7L867.9 1336.8L853.7 1328.7L853.7 1312.3ZM883.8 1297.6L898 1305.8L898 1322.1L883.8 1330.2L869.6 1322.1L869.6 1305.8ZM899.7 1289.9L913.9 1298L913.9 1314.4L899.7 1322.5L885.5 1314.4L885.5 1298ZM915.6 1281.3L929.8 1289.4L929.8 1305.8L915.6 1313.9L901.4 1305.8L901.4 1289.4ZM931.4 1270.1L945.6 1278.2L945.6 1294.6L931.4 1302.7L917.2 1294.6L917.2 1278.2ZM947.3 1258.4L961.5 1266.5L961.5 1282.9L947.3 1291L933.1 1282.9L933.1 1266.5ZM963.2 1245.7L977.4 1253.8L977.4 1270.2L963.2 1278.3L949 1270.2L949 1253.8ZM979.1 1231.6L993.3 1239.8L993.3 1256.1L979.1 1264.2L964.9 1256.1L964.9 1239.8ZM994.9 1215.2L1009.1 1223.3L1009.1 1239.7L994.9 1247.8L980.7 1239.7L980.7 1223.3ZM1010.8 1197.2L1025 1205.3L1025 1221.7L1010.8 1229.8L996.6 1221.7L996.6 1205.3ZM1026.7 1177.1L1040.9 1185.2L1040.9 1201.6L1026.7 1209.7L1012.5 1201.6L1012.5 1185.2ZM1042.6 1157.5L1056.8 1165.6L1056.8 1182L1042.6 1190.1L1028.4 1182L1028.4 1165.6ZM1058.4 1134.4L1072.6 1142.5L1072.6 1158.9L1058.4 1167L1044.2 1158.9L1044.2 1142.5ZM1074.3 1107.1L1088.5 1115.2L1088.5 1131.6L1074.3 1139.7L1060.1 1131.6L1060.1 1115.2ZM1090.2 1076.9L1104.4 1085L1104.4 1101.4L1090.2 1109.5L1076 1101.4L1076 1085ZM1106.1 1045L1120.3 1053.1L1120.3 1069.5L1106.1 1077.6L1091.9 1069.5L1091.9 1053.1ZM1121.9 1011.6L1136.1 1019.8L1136.1 1036.1L1121.9 1044.2L1107.7 1036.1L1107.7 1019.8ZM1137.8 971.3L1152 979.5L1152 995.8L1137.8 1003.9L1123.6 995.8L1123.6 979.5ZM1153.7 927.8L1167.9 936L1167.9 952.2L1153.7 960.4L1139.5 952.2L1139.5 936ZM1169.5 881.9L1183.7 890.1L1183.7 906.4L1169.5 914.5L1155.3 906.4L1155.3 890.1ZM1185.4 828.5L1199.6 836.6L1199.6 852.9L1185.4 861.1L1171.2 852.9L1171.2 836.6ZM1201.3 768L1215.5 776.1L1215.5 792.4L1201.3 800.6L1187.1 792.4L1187.1 776.1ZM1217.2 700.3L1231.4 708.5L1231.4 724.8L1217.2 732.9L1203 724.8L1203 708.5ZM1233 625.8L1247.2 634L1247.2 650.2L1233 658.4L1218.8 650.2L1218.8 634ZM1248.9 542.2L1263.1 550.4L1263.1 566.6L1248.9 574.8L1234.7 566.6L1234.7 550.4ZM1264.8 449L1279 457.2L1279 473.4L1264.8 481.6L1250.6 473.4L1250.6 457.2ZM1280.7 342.3L1294.9 350.5L1294.9 366.8L1280.7 374.9L1266.5 366.8L1266.5 350.5ZM1296.5 251.7L1310.7 259.9L1310.7 276.1L1296.5 284.3L1282.3 276.1L1282.3 259.9ZM1312.4 242.9L1326.6 251L1326.6 267.3L1312.4 275.5L1298.2 267.3L1298.2 251ZM1328.3 254.8L1342.5 263L1342.5 279.2L1328.3 287.4L1314.1 279.2L1314.1 263ZM1344.2 266.3L1358.4 274.5L1358.4 290.8L1344.2 298.9L1330 290.8L1330 274.5ZM1360 276.9L1374.2 285.1L1374.2 301.3L1360 309.5L1345.8 301.3L1345.8 285.1ZM1375.9 287.1L1390.1 295.2L1390.1 311.5L1375.9 319.7L1361.7 311.5L1361.7 295.2ZM1391.8 297.1L1406 305.2L1406 321.5L1391.8 329.7L1377.6 321.5L1377.6 305.2ZM1407.7 307.5L1421.9 315.7L1421.9 331.9L1407.7 340.1L1393.5 331.9L1393.5 315.7ZM1423.5 318.3L1437.7 326.5L1437.7 342.8L1423.5 350.9L1409.3 342.8L1409.3 326.5ZM1439.4 329.1L1453.6 337.2L1453.6 353.5L1439.4 361.7L1425.2 353.5L1425.2 337.2ZM1455.3 339.5L1469.5 347.7L1469.5 363.9L1455.3 372.1L1441.1 363.9L1441.1 347.7ZM1471.1 349.1L1485.3 357.2L1485.3 373.5L1471.1 381.7L1456.9 373.5L1456.9 357.2ZM1487 358.1L1501.2 366.2L1501.2 382.5L1487 390.7L1472.8 382.5L1472.8 366.2ZM1502.9 366.6L1517.1 374.8L1517.1 391L1502.9 399.2L1488.7 391L1488.7 374.8ZM1518.8 374.6L1533 382.8L1533 399L1518.8 407.2L1504.6 399L1504.6 382.8ZM1534.6 382.2L1548.8 390.4L1548.8 406.6L1534.6 414.8L1520.4 406.6L1520.4 390.4ZM1550.5 388.7L1564.7 396.9L1564.7 413.1L1550.5 421.3L1536.3 413.1L1536.3 396.9ZM1566.4 394.5L1580.6 402.7L1580.6 418.9L1566.4 427.1L1552.2 418.9L1552.2 402.7ZM1582.3 400.4L1596.5 408.6L1596.5 424.8L1582.3 433L1568.1 424.8L1568.1 408.6ZM1598.1 406.4L1612.3 414.6L1612.3 430.8L1598.1 439L1583.9 430.8L1583.9 414.6ZM1614 412.3L1628.2 420.5L1628.2 436.8L1614 444.9L1599.8 436.8L1599.8 420.5ZM1629.9 416.7L1644.1 424.9L1644.1 441.2L1629.9 449.3L1615.7 441.2L1615.7 424.9Z"/>
</g>
<rect x="478.3" y="22.4" width="557" height="913" fill="#fff" stroke="#000" stroke-width="6"/>
<g font-family='"Liberation Serif", "DejaVu Serif", serif' font-size="91" fill="#000">
<path stroke="#000000" stroke-width="6" stroke-linecap="round" d="M490.6 84.3H696.4"/>
<path fill="#000000" d="M581.8 72.3L605.8 72.3L605.8 96.3L581.8 96.3Z"/>
<text x="719.3" y="113.2">h2=0.25</text>
<path stroke="#ff0000" stroke-width="6" stroke-linecap="round" d="M490.6 196.1H696.4"/>
<path fill="#ff0000" d="M589 183.1L598.6 183.1L603 186.9L605.3 190.1L605.3 202.1L603 205.3L598.6 209.1L589 209.1L584.6 205.3L582.3 202.1L582.3 190.1L584.6 186.9Z"/>
<text x="719.3" y="225">h2=0.5</text>
<path stroke="#0000ff" stroke-width="6" stroke-linecap="round" d="M490.6 310H696.4"/>
<path fill="#0000ff" d="M593.8 290.4L610.7 320.6L576.9 320.6Z"/>
<text x="719.3" y="338.9">h2=0.75</text>
<path stroke="#ff00ff" stroke-width="6" stroke-linecap="round" d="M490.6 422H696.4"/>
<path fill="#ff00ff" d="M593.8 441.6L610.7 411.4L576.9 411.4Z"/>
<text x="719.3" y="450.9">h2=1</text>
<path stroke="#008000" stroke-width="6" stroke-linecap="round" d="M490.6 535.8H696.4"/>
<path fill="#008000" d="M593.8 517.8L611.2 535.8L593.8 553.8L576.4 535.8Z"/>
<text x="719.3" y="564.7">h2=1.25</text>
<path stroke="#000080" stroke-width="6" stroke-linecap="round" d="M490.6 647.7H696.4"/>
<path fill="#000080" d="M574 647.7L604 630.9L604 664.5Z"/>
<text x="719.3" y="676.6">h2=1.5</text>
<path stroke="#9900ff" stroke-width="6" stroke-linecap="round" d="M490.6 761.2H696.4"/>
<path fill="#9900ff" d="M613.7 761.2L583.7 744.1L583.7 778.3Z"/>
<text x="719.3" y="790.1">h2=1.75</text>
<path stroke="#990085" stroke-width="6" stroke-linecap="round" d="M490.6 873.2H696.4"/>
<path fill="#990085" d="M593.8 856.9L608 865.1L608 881.4L593.8 889.5L579.6 881.4L579.6 865.1Z"/>
<text x="719.3" y="902.1">h2=2</text>
</g>
</svg>
</body>
</html>
